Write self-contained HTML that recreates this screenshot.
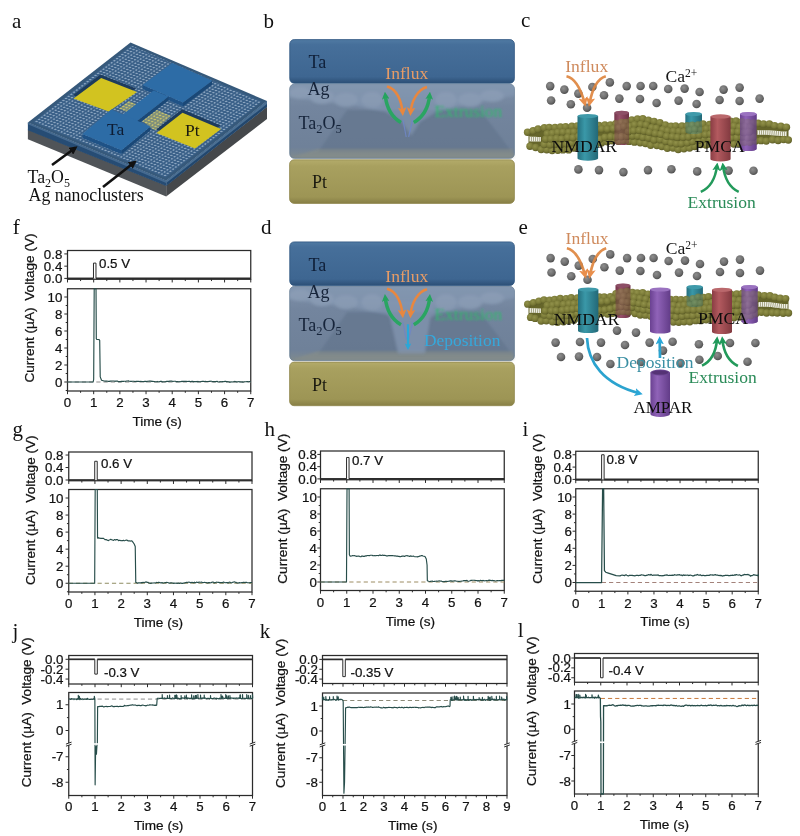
<!DOCTYPE html>
<html><head><meta charset="utf-8"><title>Figure</title>
<style>
html,body{margin:0;padding:0;background:#fff;overflow:hidden;width:800px;height:836px;}
svg{display:block;}
.sans text{font-family:"Liberation Sans",sans-serif;stroke:#111;stroke-width:.22px;}
.serif text{font-family:"Liberation Serif",serif;}
</style></head><body>
<svg width="800" height="836" viewBox="0 0 800 836">
<rect width="800" height="836" fill="#fff"/>
<g class="serif">
<defs>
<pattern id="dots" width="3.4" height="3.4" patternUnits="userSpaceOnUse" patternTransform="matrix(0.922 0.387 0.788 -0.615 27.9 122.6)">
<circle cx="1.7" cy="1.7" r="0.95" fill="#a6bcd2" fill-opacity="0.9"/></pattern>
<pattern id="ydots" width="3.4" height="3.4" patternUnits="userSpaceOnUse" patternTransform="matrix(0.922 0.387 0.788 -0.615 27.9 122.6)">
<circle cx="1.7" cy="1.7" r="0.9" fill="#d8cf6a"/></pattern>
<linearGradient id="gTa" x1="0" y1="0" x2="0" y2="1"><stop offset="0" stop-color="#507aa3"/><stop offset="0.12" stop-color="#466f9a"/><stop offset="0.85" stop-color="#3e6691"/><stop offset="1" stop-color="#2c4f76"/></linearGradient>
<linearGradient id="gOx" x1="0" y1="0" x2="0" y2="1"><stop offset="0" stop-color="#8092aa"/><stop offset="0.3" stop-color="#73859e"/><stop offset="0.85" stop-color="#6f8199"/><stop offset="1" stop-color="#7f8a8e"/></linearGradient>
<linearGradient id="gPt" x1="0" y1="0" x2="0" y2="1"><stop offset="0" stop-color="#b3ab6a"/><stop offset="0.15" stop-color="#a8a05f"/><stop offset="0.85" stop-color="#9d9555"/><stop offset="1" stop-color="#877f45"/></linearGradient>
<radialGradient id="gCa" cx="0.4" cy="0.35" r="0.7"><stop offset="0" stop-color="#8e8e8e"/><stop offset="0.6" stop-color="#6e6e6e"/><stop offset="1" stop-color="#484848"/></radialGradient>
<radialGradient id="gLip" cx="0.4" cy="0.35" r="0.75"><stop offset="0" stop-color="#92924b"/><stop offset="0.55" stop-color="#7a7a37"/><stop offset="1" stop-color="#545422"/></radialGradient>
<linearGradient id="gTeal" x1="0" y1="0" x2="1" y2="0"><stop offset="0" stop-color="#256f7e"/><stop offset="0.35" stop-color="#3a98a8"/><stop offset="1" stop-color="#236877"/></linearGradient>
<linearGradient id="gRed" x1="0" y1="0" x2="1" y2="0"><stop offset="0" stop-color="#8a3d44"/><stop offset="0.35" stop-color="#b35a5f"/><stop offset="1" stop-color="#823a40"/></linearGradient>
<linearGradient id="gDred" x1="0" y1="0" x2="1" y2="0"><stop offset="0" stop-color="#74344a"/><stop offset="0.35" stop-color="#97506a"/><stop offset="1" stop-color="#6d3045"/></linearGradient>
<linearGradient id="gPur" x1="0" y1="0" x2="1" y2="0"><stop offset="0" stop-color="#6a4191"/><stop offset="0.35" stop-color="#9063b8"/><stop offset="1" stop-color="#623c88"/></linearGradient>
<filter id="blur1" x="-10%" y="-30%" width="120%" height="160%"><feGaussianBlur stdDeviation="0.8"/></filter>
<filter id="blur2" x="-10%" y="-10%" width="120%" height="120%"><feGaussianBlur stdDeviation="1.6"/></filter>
<filter id="blur05" x="-10%" y="-10%" width="120%" height="120%"><feGaussianBlur stdDeviation="0.45"/></filter>
<marker id="mO" viewBox="0 0 10 10" refX="6" refY="5" markerWidth="3.5" markerHeight="3.5" orient="auto"><path d="M0 0L10 5L0 10L2.5 5z" fill="#e8873f"/></marker>
<marker id="mG" viewBox="0 0 10 10" refX="5" refY="5" markerWidth="2.2" markerHeight="2.2" orient="auto"><path d="M0 0L10 5L0 10L2.5 5z" fill="#25a35e"/></marker>
<marker id="mG2" viewBox="0 0 10 10" refX="6" refY="5" markerWidth="3.3" markerHeight="3.3" orient="auto"><path d="M0 0L10 5L0 10L2.5 5z" fill="#1f9a5a"/></marker>
<marker id="mB" viewBox="0 0 10 10" refX="6" refY="5" markerWidth="3.1" markerHeight="3.1" orient="auto"><path d="M0 0L10 5L0 10L2.5 5z" fill="#2aa7d8"/></marker>
<marker id="mK" viewBox="0 0 10 10" refX="7" refY="5" markerWidth="3.2" markerHeight="3.2" orient="auto"><path d="M0 0L10 5L0 10z" fill="#111"/></marker>
</defs>
<polygon points="27.9,129.6 166.2,185.6 166.2,196.5 27.9,139.2" fill="#505458" />
<polygon points="166.2,185.6 267,106.8 267,119 166.2,196.5" fill="#45484b" />
<polygon points="27.9,122.6 166.2,180.7 166.2,186.1 27.9,130.2" fill="#264c74" />
<polygon points="166.2,180.7 267,101 267,107 166.2,186.1" fill="#22476e" />
<polygon points="166.2,180.7 267,101 267,104 166.2,182.9" fill="#4b7094" />
<polygon points="27.9,122.6 166.2,180.7 166.2,182.9 27.9,124.2" fill="#456a90" />
<polygon points="130.5,42.5 267,101 166.2,180.7 27.9,122.6" fill="#36597b" />
<polygon points="131.28,45.61 261.64,101.48 165.38,177.59 33.3,122.11" fill="#3b6189" />
<polygon points="131.28,45.61 261.64,101.48 165.38,177.59 33.3,122.11" fill="url(#dots)" />
<polygon points="72.8,95.2 100.4,74.5 136.2,88.6 107.8,108.2" fill="#1d3b5d" />
<polygon points="73.6,98.6 101.2,77.9 137,92 108.6,111.6" fill="#d2c320" />
<polygon points="156.1,129.6 182.1,109.3 220.6,125.5 194.6,145.1" fill="#1d3b5d" />
<polygon points="156.5,133 182.5,112.7 221,128.9 195,148.5" fill="#d2c320" />
<polygon points="142,121 157,110 171,116 155,130.5" fill="#80907a" />
<polygon points="142,121 157,110 171,116 155,130.5" fill="url(#ydots)" />
<polygon points="119,108.5 129,101 137,104.5 127,112" fill="#80907a" />
<polygon points="119,108.5 129,101 137,104.5 127,112" fill="url(#ydots)" />
<polygon points="142.6,85.1 183,102.4 183,106.4 142.6,89.1" fill="#1f5286" />
<polygon points="183,102.4 212.1,80.7 212.1,84.7 183,106.4" fill="#1a4877" />
<polygon points="120.5,116.3 135.4,122.3 135.4,126.3 120.5,120.3" fill="#1f5286" />
<polygon points="135.4,122.3 168.5,96.5 168.5,100.5 135.4,126.3" fill="#1a4877" />
<polygon points="82.4,134.1 121.6,150.2 121.6,154.2 82.4,138.1" fill="#1f5286" />
<polygon points="121.6,150.2 150.4,126.5 150.4,130.5 121.6,154.2" fill="#1a4877" />
<polygon points="142.6,85.1 172.3,63.1 212.1,80.7 183,102.4" fill="#2d6ca6" />
<polygon points="120.5,116.3 153.6,90.5 168.5,96.5 135.4,122.3" fill="#2d6ca6" />
<polygon points="82.4,134.1 111.4,109.4 150.4,126.5 121.6,150.2" fill="#2d6ca6" />
<text x="107" y="134.5" font-size="17.5" fill="#0d1c33">Ta</text>
<text x="185" y="136.2" font-size="17.5" fill="#1a1a10">Pt</text>
<path d="M52 165L75.5 147.8" stroke="#111" stroke-width="2.6" marker-end="url(#mK)" fill="none"/>
<path d="M103 187L134.8 162" stroke="#111" stroke-width="2.6" marker-end="url(#mK)" fill="none"/>
<text x="27.6" y="183" font-size="17.8" fill="#111">Ta<tspan font-size="12" dy="4">2</tspan><tspan dy="-4">O</tspan><tspan font-size="12" dy="4">5</tspan></text>
<text x="28.6" y="201.2" font-size="17.8" fill="#111">Ag nanoclusters</text>
<rect x="289.6" y="159.8" width="224.8" height="43.6" rx="4.5" fill="url(#gPt)" stroke="#8f874c" stroke-width="0.8"/>
<rect x="289.75" y="84.2" width="224.65" height="74.1" rx="4.5" fill="url(#gOx)" stroke="#62788f" stroke-width="0.8"/>
<polygon points="347,110 480,110 512,152 318,152" fill="#65778f" opacity="0.8" filter="url(#blur1)"/>
<polygon points="318,149 512,149 514,157.5 291,157.5" fill="#8a8f86" opacity="0.55" filter="url(#blur1)"/>
<clipPath id="cpox0"><rect x="289.75" y="84.2" width="224.65" height="74.1" rx="4.5"/></clipPath>
<g clip-path="url(#cpox0)"><g filter="url(#blur2)" opacity="0.62">
<polygon points="286,80 518,80 518,95 470,104 436,112 420,122 411,136 402,122 386,112 350,105 286,97" fill="#8599b4"/>
<ellipse cx="300" cy="93" rx="11" ry="6" fill="#93a5bd"/>
<ellipse cx="322" cy="97" rx="12" ry="7" fill="#93a5bd"/>
<ellipse cx="346" cy="100" rx="12" ry="7" fill="#93a5bd"/>
<ellipse cx="372" cy="100" rx="11" ry="8" fill="#93a5bd"/>
<ellipse cx="446" cy="100" rx="11" ry="8" fill="#93a5bd"/>
<ellipse cx="470" cy="100" rx="12" ry="7" fill="#93a5bd"/>
<ellipse cx="492" cy="96" rx="12" ry="6" fill="#93a5bd"/>
</g></g>
<rect x="289.75" y="39.6" width="224.65" height="43.6" rx="4.5" fill="url(#gTa)" stroke="#2f5680" stroke-width="0.8"/>
<path d="M403 120L406.2 137M412.6 120L408.6 137" stroke="#6f86c4" stroke-width="1.2" fill="none" opacity="0.9"/>
<text x="308.5" y="68.2" font-size="18" fill="#0f1f38">Ta</text>
<text x="307.5" y="95.2" font-size="18" fill="#16243a">Ag</text>
<text x="298.5" y="129" font-size="18" fill="#16243a">Ta<tspan font-size="12.5" dy="4">2</tspan><tspan dy="-4">O</tspan><tspan font-size="12.5" dy="4">5</tspan></text>
<text x="312" y="188.3" font-size="18" fill="#1b1a10">Pt</text>
<text x="385.3" y="79.4" font-size="17.6" fill="#e79c66">Influx</text>
<path d="M387 86.5C397 89 401.5 101 402.6 112.5" stroke="#e8873f" stroke-width="2.5" fill="none" marker-end="url(#mO)"/>
<path d="M427 87C417.5 89.5 411.5 101 410.6 112.5" stroke="#e8873f" stroke-width="2.5" fill="none" marker-end="url(#mO)"/>
<path d="M401 122.5C391.5 117 386.5 107 385.3 95.5" stroke="#2aa562" stroke-width="3.5" fill="none" marker-end="url(#mG)"/>
<path d="M413.8 122.5C423 117 428.5 107 429.6 95.5" stroke="#2aa562" stroke-width="3.5" fill="none" marker-end="url(#mG)"/>
<text x="434.5" y="117.3" font-size="17.4" fill="#34b86f" filter="url(#blur1)">Extrusion</text>
<rect x="289.6" y="362.1" width="224.8" height="43.6" rx="4.5" fill="url(#gPt)" stroke="#8f874c" stroke-width="0.8"/>
<rect x="289.75" y="286.5" width="224.65" height="74.1" rx="4.5" fill="url(#gOx)" stroke="#62788f" stroke-width="0.8"/>
<polygon points="347,312.3 480,312.3 512,354.3 318,354.3" fill="#65778f" opacity="0.8" filter="url(#blur1)"/>
<polygon points="318,351.3 512,351.3 514,359.8 291,359.8" fill="#8a8f86" opacity="0.55" filter="url(#blur1)"/>
<clipPath id="cpox202"><rect x="289.75" y="286.5" width="224.65" height="74.1" rx="4.5"/></clipPath>
<g clip-path="url(#cpox202)"><g filter="url(#blur2)" opacity="0.62">
<polygon points="286,282.3 518,282.3 518,297.3 470,306.3 436,314.3 420,324.3 411,338.3 402,324.3 386,314.3 350,307.3 286,299.3" fill="#8599b4"/>
<ellipse cx="300" cy="295.3" rx="11" ry="6" fill="#93a5bd"/>
<ellipse cx="322" cy="299.3" rx="12" ry="7" fill="#93a5bd"/>
<ellipse cx="346" cy="302.3" rx="12" ry="7" fill="#93a5bd"/>
<ellipse cx="372" cy="302.3" rx="11" ry="8" fill="#93a5bd"/>
<ellipse cx="446" cy="302.3" rx="11" ry="8" fill="#93a5bd"/>
<ellipse cx="470" cy="302.3" rx="12" ry="7" fill="#93a5bd"/>
<ellipse cx="492" cy="298.3" rx="12" ry="6" fill="#93a5bd"/>
<polygon points="386,300.3 433,300.3 425,353.3 398,353.3" fill="#8a9db8"/>
</g></g>
<rect x="289.75" y="241.9" width="224.65" height="43.6" rx="4.5" fill="url(#gTa)" stroke="#2f5680" stroke-width="0.8"/>
<path d="M403 322.3L406.2 339.3M412.6 322.3L408.6 339.3" stroke="#6f86c4" stroke-width="1.2" fill="none" opacity="0.9"/>
<text x="308.5" y="270.5" font-size="18" fill="#0f1f38">Ta</text>
<text x="307.5" y="297.5" font-size="18" fill="#16243a">Ag</text>
<text x="298.5" y="331.3" font-size="18" fill="#16243a">Ta<tspan font-size="12.5" dy="4">2</tspan><tspan dy="-4">O</tspan><tspan font-size="12.5" dy="4">5</tspan></text>
<text x="312" y="390.6" font-size="18" fill="#1b1a10">Pt</text>
<text x="385.3" y="281.7" font-size="17.6" fill="#e79c66">Influx</text>
<path d="M387 288.8C397 291.3 401.5 303.3 402.6 314.8" stroke="#e8873f" stroke-width="2.5" fill="none" marker-end="url(#mO)"/>
<path d="M427 289.3C417.5 291.8 411.5 303.3 410.6 314.8" stroke="#e8873f" stroke-width="2.5" fill="none" marker-end="url(#mO)"/>
<path d="M401 324.8C391.5 319.3 386.5 309.3 385.3 297.8" stroke="#2aa562" stroke-width="3.5" fill="none" marker-end="url(#mG)"/>
<path d="M413.8 324.8C423 319.3 428.5 309.3 429.6 297.8" stroke="#2aa562" stroke-width="3.5" fill="none" marker-end="url(#mG)"/>
<text x="434.5" y="319.6" font-size="17.4" fill="#34b86f" filter="url(#blur1)">Extrusion</text>
<path d="M408 324.3L408 347.3" stroke="#2aa7d8" stroke-width="2.2" fill="none" marker-end="url(#mB)"/>
<text x="424" y="345.8" font-size="17.4" fill="#35a8dc" filter="url(#blur05)">Deposition</text>
<circle cx="550.2" cy="86.1" r="4.3" fill="url(#gCa)"/>
<circle cx="551.1" cy="100.5" r="4.3" fill="url(#gCa)"/>
<circle cx="564.35" cy="89.6" r="4.3" fill="url(#gCa)"/>
<circle cx="570.85" cy="104.25" r="4.3" fill="url(#gCa)"/>
<circle cx="578.35" cy="93.6" r="4.3" fill="url(#gCa)"/>
<circle cx="587.1" cy="107.75" r="4.3" fill="url(#gCa)"/>
<circle cx="592.35" cy="87" r="4.3" fill="url(#gCa)"/>
<circle cx="604" cy="95.25" r="4.3" fill="url(#gCa)"/>
<circle cx="609.85" cy="82.4" r="4.3" fill="url(#gCa)"/>
<circle cx="619.35" cy="98.6" r="4.3" fill="url(#gCa)"/>
<circle cx="626.7" cy="86.1" r="4.3" fill="url(#gCa)"/>
<circle cx="640.6" cy="86" r="4.3" fill="url(#gCa)"/>
<circle cx="640" cy="99" r="4.3" fill="url(#gCa)"/>
<circle cx="653.2" cy="86" r="4.3" fill="url(#gCa)"/>
<circle cx="656.6" cy="103" r="4.3" fill="url(#gCa)"/>
<circle cx="668.2" cy="89" r="4.3" fill="url(#gCa)"/>
<circle cx="678.6" cy="100.6" r="4.3" fill="url(#gCa)"/>
<circle cx="684.6" cy="88.6" r="4.3" fill="url(#gCa)"/>
<circle cx="696.6" cy="104" r="4.3" fill="url(#gCa)"/>
<circle cx="699.6" cy="92" r="4.3" fill="url(#gCa)"/>
<circle cx="719.6" cy="100" r="4.3" fill="url(#gCa)"/>
<circle cx="723.6" cy="89.6" r="4.3" fill="url(#gCa)"/>
<circle cx="739.6" cy="87.6" r="4.3" fill="url(#gCa)"/>
<circle cx="739.6" cy="101" r="4.3" fill="url(#gCa)"/>
<circle cx="759.6" cy="98.6" r="4.3" fill="url(#gCa)"/>
<circle cx="578.4" cy="169.4" r="4.3" fill="url(#gCa)"/>
<circle cx="599" cy="170.1" r="4.3" fill="url(#gCa)"/>
<circle cx="623.4" cy="172.1" r="4.3" fill="url(#gCa)"/>
<circle cx="648" cy="170.1" r="4.3" fill="url(#gCa)"/>
<circle cx="671.4" cy="169.3" r="4.3" fill="url(#gCa)"/>
<circle cx="697.2" cy="171.4" r="4.3" fill="url(#gCa)"/>
<circle cx="728.6" cy="170.6" r="4.3" fill="url(#gCa)"/>
<circle cx="753.5" cy="170.7" r="4.3" fill="url(#gCa)"/>
<path d="M614.4 112.8V143A7.3 2.1 0 0 0 629 143V112.8z" fill="url(#gDred)"/><ellipse cx="621.7" cy="112.8" rx="7.3" ry="2.1" fill="#8d4f66"/>
<path d="M685.4 114V140A8.3 2.1 0 0 0 702 140V114z" fill="url(#gTeal)"/><ellipse cx="693.7" cy="114" rx="8.3" ry="2.1" fill="#3f9aaa"/>
<path d="M740 114V149A8.3 2.1 0 0 0 756.6 149V114z" fill="url(#gPur)"/><ellipse cx="748.3" cy="114" rx="8.3" ry="2.1" fill="#9a72c0"/>
<polygon points="528.5,131.82 532.5,130.53 536.5,129.35 540.5,128.2 544.5,127.94 548.5,127.42 552.5,126.83 556.5,126.36 560.5,126.2 564.5,126.11 568.5,125.93 572.5,125.7 576.5,125.47 580.5,125.29 584.5,125.2 588.5,125.15 592.5,124.98 596.5,124.76 600.5,124.52 604.5,124.32 608.5,124.21 612.5,124.01 616.5,123.2 620.5,122.24 624.5,121.71 628.5,121.15 632.5,119.7 636.5,118.25 640.5,117.71 644.5,118.46 648.5,119.8 652.5,120.94 656.5,121.32 660.5,122.5 664.5,124.15 668.5,125.33 672.5,125.41 676.5,125.27 680.5,125.2 684.5,125.08 688.5,124.81 692.5,124.48 696.5,124.16 700.5,123.93 704.5,123.85 708.5,123.63 712.5,123.13 716.5,122.48 720.5,121.77 724.5,121.12 728.5,120.62 732.5,120.4 736.5,120.5 740.5,120.82 744.5,121.28 748.5,121.83 752.5,122.38 756.5,122.88 760.5,123.24 764.5,123.4 768.5,123.66 772.5,124.43 776.5,125.43 780.5,126.35 784.5,126.9 788.5,127.42 788.5,139.96 784.5,140.06 780.5,140.21 776.5,140.46 772.5,140.72 768.5,140.93 764.5,141 760.5,141.16 756.5,141.52 752.5,142.02 748.5,142.57 744.5,143.12 740.5,143.58 736.5,143.9 732.5,144 728.5,144.06 724.5,144.2 720.5,144.38 716.5,144.57 712.5,144.75 708.5,144.89 704.5,144.95 700.5,145.23 696.5,146.07 692.5,147.22 688.5,148.41 684.5,149.35 680.5,149.79 676.5,149.45 672.5,148.75 668.5,148.47 664.5,147.71 660.5,146.64 656.5,145.88 652.5,145.61 648.5,144.8 644.5,143.84 640.5,143.31 636.5,143.02 632.5,142.3 628.5,141.58 624.5,141.3 620.5,141.41 616.5,141.6 612.5,141.76 608.5,141.85 604.5,142.42 600.5,143.42 596.5,144.6 592.5,145.72 588.5,146.53 584.5,146.8 580.5,147.14 576.5,147.87 572.5,148.8 568.5,149.73 564.5,150.46 560.5,150.8 556.5,150.72 552.5,150.48 548.5,150.19 544.5,149.93 540.5,149.8 536.5,148.45 532.5,147.06 528.5,145.32" fill="#65652a"/>
<polyline points="529,138.9 532,139.08 535,139.14 538,139.26 541,139.3" fill="none" stroke="#efefe6" stroke-width="4.6"/>
<polyline points="529,138.9 532,139.08 535,139.14 538,139.26 541,139.3" fill="none" stroke="#8d8d62" stroke-width="4.6" stroke-dasharray="0.7 1.4"/>
<polyline points="757,132.5 760,132.5 763,132.5 766,132.51 769,132.62 772,132.84 775,133.1 778,133.38 781,133.61 784,133.77 787,133.84" fill="none" stroke="#efefe6" stroke-width="4.6"/>
<polyline points="757,132.5 760,132.5 763,132.5 766,132.51 769,132.62 772,132.84 775,133.1 778,133.38 781,133.61 784,133.77 787,133.84" fill="none" stroke="#8d8d62" stroke-width="4.6" stroke-dasharray="0.7 1.4"/>
<circle cx="527.54" cy="132.18" r="3.7" fill="url(#gLip)"/>
<circle cx="533.1" cy="130.74" r="3.7" fill="url(#gLip)"/>
<circle cx="538.07" cy="129.02" r="3.7" fill="url(#gLip)"/>
<circle cx="544.34" cy="127.81" r="3.7" fill="url(#gLip)"/>
<circle cx="549.23" cy="127.39" r="3.7" fill="url(#gLip)"/>
<circle cx="554.97" cy="127.51" r="3.7" fill="url(#gLip)"/>
<circle cx="560.48" cy="127" r="3.7" fill="url(#gLip)"/>
<circle cx="565.65" cy="126.62" r="3.7" fill="url(#gLip)"/>
<circle cx="571.87" cy="126.32" r="3.7" fill="url(#gLip)"/>
<circle cx="577.24" cy="125.87" r="3.7" fill="url(#gLip)"/>
<circle cx="582.06" cy="125.83" r="3.7" fill="url(#gLip)"/>
<circle cx="588.09" cy="125.87" r="3.7" fill="url(#gLip)"/>
<circle cx="593.03" cy="125.09" r="3.7" fill="url(#gLip)"/>
<circle cx="598.97" cy="125.45" r="3.7" fill="url(#gLip)"/>
<circle cx="604.88" cy="124.99" r="3.7" fill="url(#gLip)"/>
<circle cx="610.42" cy="124.86" r="3.7" fill="url(#gLip)"/>
<circle cx="615.8" cy="123.71" r="3.7" fill="url(#gLip)"/>
<circle cx="621.44" cy="122.47" r="3.7" fill="url(#gLip)"/>
<circle cx="626.1" cy="122.44" r="3.7" fill="url(#gLip)"/>
<circle cx="631.72" cy="119.86" r="3.7" fill="url(#gLip)"/>
<circle cx="637.44" cy="118.95" r="3.7" fill="url(#gLip)"/>
<circle cx="642.8" cy="118.62" r="3.7" fill="url(#gLip)"/>
<circle cx="648.39" cy="120.21" r="3.7" fill="url(#gLip)"/>
<circle cx="654.09" cy="121.38" r="3.7" fill="url(#gLip)"/>
<circle cx="659.9" cy="122.62" r="3.7" fill="url(#gLip)"/>
<circle cx="665.43" cy="124.97" r="3.7" fill="url(#gLip)"/>
<circle cx="670.99" cy="126.28" r="3.7" fill="url(#gLip)"/>
<circle cx="675.66" cy="125.89" r="3.7" fill="url(#gLip)"/>
<circle cx="681.96" cy="126.02" r="3.7" fill="url(#gLip)"/>
<circle cx="687.07" cy="125.81" r="3.7" fill="url(#gLip)"/>
<circle cx="692.21" cy="125.14" r="3.7" fill="url(#gLip)"/>
<circle cx="698.07" cy="124.86" r="3.7" fill="url(#gLip)"/>
<circle cx="703.06" cy="123.99" r="3.7" fill="url(#gLip)"/>
<circle cx="709.49" cy="124.4" r="3.7" fill="url(#gLip)"/>
<circle cx="714.8" cy="122.73" r="3.7" fill="url(#gLip)"/>
<circle cx="719.65" cy="122.15" r="3.7" fill="url(#gLip)"/>
<circle cx="725.77" cy="121.13" r="3.7" fill="url(#gLip)"/>
<circle cx="730.54" cy="121.29" r="3.7" fill="url(#gLip)"/>
<circle cx="736.04" cy="121.04" r="3.7" fill="url(#gLip)"/>
<circle cx="741.83" cy="121.64" r="3.7" fill="url(#gLip)"/>
<circle cx="747.98" cy="122.55" r="3.7" fill="url(#gLip)"/>
<circle cx="753.5" cy="122.86" r="3.7" fill="url(#gLip)"/>
<circle cx="758.08" cy="123.25" r="3.7" fill="url(#gLip)"/>
<circle cx="763.53" cy="123.91" r="3.7" fill="url(#gLip)"/>
<circle cx="769.41" cy="123.86" r="3.7" fill="url(#gLip)"/>
<circle cx="774.66" cy="125.58" r="3.7" fill="url(#gLip)"/>
<circle cx="780.87" cy="126.2" r="3.7" fill="url(#gLip)"/>
<circle cx="786.46" cy="127.13" r="3.7" fill="url(#gLip)"/>
<circle cx="529.98" cy="146.21" r="3.7" fill="url(#gLip)"/>
<circle cx="535.62" cy="147.49" r="3.7" fill="url(#gLip)"/>
<circle cx="541.2" cy="149.58" r="3.7" fill="url(#gLip)"/>
<circle cx="546.72" cy="149.73" r="3.7" fill="url(#gLip)"/>
<circle cx="552.11" cy="150.58" r="3.7" fill="url(#gLip)"/>
<circle cx="557.82" cy="150.28" r="3.7" fill="url(#gLip)"/>
<circle cx="562.9" cy="149.92" r="3.7" fill="url(#gLip)"/>
<circle cx="568.62" cy="149.88" r="3.7" fill="url(#gLip)"/>
<circle cx="573.61" cy="148.08" r="3.7" fill="url(#gLip)"/>
<circle cx="579.68" cy="146.78" r="3.7" fill="url(#gLip)"/>
<circle cx="585.22" cy="145.82" r="3.7" fill="url(#gLip)"/>
<circle cx="590.16" cy="145.92" r="3.7" fill="url(#gLip)"/>
<circle cx="596.07" cy="144.47" r="3.7" fill="url(#gLip)"/>
<circle cx="601.45" cy="142.93" r="3.7" fill="url(#gLip)"/>
<circle cx="607.34" cy="141.83" r="3.7" fill="url(#gLip)"/>
<circle cx="612.16" cy="140.79" r="3.7" fill="url(#gLip)"/>
<circle cx="618.56" cy="141.33" r="3.7" fill="url(#gLip)"/>
<circle cx="623.56" cy="140.61" r="3.7" fill="url(#gLip)"/>
<circle cx="628.92" cy="141.38" r="3.7" fill="url(#gLip)"/>
<circle cx="634.41" cy="142.15" r="3.7" fill="url(#gLip)"/>
<circle cx="640.2" cy="142.74" r="3.7" fill="url(#gLip)"/>
<circle cx="645.48" cy="143.45" r="3.7" fill="url(#gLip)"/>
<circle cx="650.63" cy="145.31" r="3.7" fill="url(#gLip)"/>
<circle cx="656.84" cy="145.57" r="3.7" fill="url(#gLip)"/>
<circle cx="661.82" cy="146.44" r="3.7" fill="url(#gLip)"/>
<circle cx="667.34" cy="148.33" r="3.7" fill="url(#gLip)"/>
<circle cx="673.04" cy="148.06" r="3.7" fill="url(#gLip)"/>
<circle cx="678.2" cy="149.57" r="3.7" fill="url(#gLip)"/>
<circle cx="683.93" cy="148.81" r="3.7" fill="url(#gLip)"/>
<circle cx="689.54" cy="148.09" r="3.7" fill="url(#gLip)"/>
<circle cx="694.77" cy="146.48" r="3.7" fill="url(#gLip)"/>
<circle cx="700.75" cy="144.62" r="3.7" fill="url(#gLip)"/>
<circle cx="706.05" cy="145" r="3.7" fill="url(#gLip)"/>
<circle cx="711.22" cy="144.06" r="3.7" fill="url(#gLip)"/>
<circle cx="716.79" cy="144.18" r="3.7" fill="url(#gLip)"/>
<circle cx="722.94" cy="144.25" r="3.7" fill="url(#gLip)"/>
<circle cx="727.88" cy="143.29" r="3.7" fill="url(#gLip)"/>
<circle cx="733.74" cy="143.97" r="3.7" fill="url(#gLip)"/>
<circle cx="738.95" cy="143.68" r="3.7" fill="url(#gLip)"/>
<circle cx="744.39" cy="142.26" r="3.7" fill="url(#gLip)"/>
<circle cx="749.87" cy="142.3" r="3.7" fill="url(#gLip)"/>
<circle cx="755.52" cy="141.04" r="3.7" fill="url(#gLip)"/>
<circle cx="761.01" cy="140.63" r="3.7" fill="url(#gLip)"/>
<circle cx="766.26" cy="141.09" r="3.7" fill="url(#gLip)"/>
<circle cx="772.54" cy="139.75" r="3.7" fill="url(#gLip)"/>
<circle cx="778.09" cy="140.44" r="3.7" fill="url(#gLip)"/>
<circle cx="783.55" cy="139.62" r="3.7" fill="url(#gLip)"/>
<circle cx="788.32" cy="140.06" r="3.7" fill="url(#gLip)"/>
<circle cx="547.24" cy="133.75" r="3.7" fill="url(#gLip)"/>
<circle cx="552.42" cy="133.15" r="3.7" fill="url(#gLip)"/>
<circle cx="557.74" cy="132.34" r="3.7" fill="url(#gLip)"/>
<circle cx="562.97" cy="132.13" r="3.7" fill="url(#gLip)"/>
<circle cx="568.69" cy="132.15" r="3.7" fill="url(#gLip)"/>
<circle cx="573.95" cy="131.85" r="3.7" fill="url(#gLip)"/>
<circle cx="580.09" cy="131.47" r="3.7" fill="url(#gLip)"/>
<circle cx="585.8" cy="131.31" r="3.7" fill="url(#gLip)"/>
<circle cx="590.98" cy="131" r="3.7" fill="url(#gLip)"/>
<circle cx="596.65" cy="129.35" r="3.7" fill="url(#gLip)"/>
<circle cx="601.7" cy="128.9" r="3.7" fill="url(#gLip)"/>
<circle cx="607.42" cy="129.06" r="3.7" fill="url(#gLip)"/>
<circle cx="613.34" cy="128.5" r="3.7" fill="url(#gLip)"/>
<circle cx="618.24" cy="127.76" r="3.7" fill="url(#gLip)"/>
<circle cx="624.26" cy="126.53" r="3.7" fill="url(#gLip)"/>
<circle cx="629.68" cy="126.25" r="3.7" fill="url(#gLip)"/>
<circle cx="634.6" cy="124.79" r="3.7" fill="url(#gLip)"/>
<circle cx="640.72" cy="124.35" r="3.7" fill="url(#gLip)"/>
<circle cx="646.19" cy="125.02" r="3.7" fill="url(#gLip)"/>
<circle cx="651.71" cy="127.58" r="3.7" fill="url(#gLip)"/>
<circle cx="656.41" cy="128.11" r="3.7" fill="url(#gLip)"/>
<circle cx="662.76" cy="129.6" r="3.7" fill="url(#gLip)"/>
<circle cx="667.67" cy="130.68" r="3.7" fill="url(#gLip)"/>
<circle cx="673.43" cy="131.18" r="3.7" fill="url(#gLip)"/>
<circle cx="678.87" cy="131.45" r="3.7" fill="url(#gLip)"/>
<circle cx="683.9" cy="131.68" r="3.7" fill="url(#gLip)"/>
<circle cx="689.53" cy="130.19" r="3.7" fill="url(#gLip)"/>
<circle cx="694.97" cy="129.53" r="3.7" fill="url(#gLip)"/>
<circle cx="701.25" cy="130" r="3.7" fill="url(#gLip)"/>
<circle cx="706.4" cy="128.77" r="3.7" fill="url(#gLip)"/>
<circle cx="711.71" cy="128.59" r="3.7" fill="url(#gLip)"/>
<circle cx="717.55" cy="127.89" r="3.7" fill="url(#gLip)"/>
<circle cx="722.76" cy="127.39" r="3.7" fill="url(#gLip)"/>
<circle cx="728.23" cy="126.32" r="3.7" fill="url(#gLip)"/>
<circle cx="733.96" cy="126.05" r="3.7" fill="url(#gLip)"/>
<circle cx="739.28" cy="126.92" r="3.7" fill="url(#gLip)"/>
<circle cx="744.58" cy="126.46" r="3.7" fill="url(#gLip)"/>
<circle cx="750.5" cy="127.2" r="3.7" fill="url(#gLip)"/>
<circle cx="544.28" cy="144.57" r="3.7" fill="url(#gLip)"/>
<circle cx="550.02" cy="144.68" r="3.7" fill="url(#gLip)"/>
<circle cx="555.27" cy="144.33" r="3.7" fill="url(#gLip)"/>
<circle cx="561.1" cy="144.43" r="3.7" fill="url(#gLip)"/>
<circle cx="566.59" cy="143.82" r="3.7" fill="url(#gLip)"/>
<circle cx="571.65" cy="142.89" r="3.7" fill="url(#gLip)"/>
<circle cx="577.6" cy="141.96" r="3.7" fill="url(#gLip)"/>
<circle cx="582.82" cy="140.75" r="3.7" fill="url(#gLip)"/>
<circle cx="588.78" cy="140.91" r="3.7" fill="url(#gLip)"/>
<circle cx="593.77" cy="140.56" r="3.7" fill="url(#gLip)"/>
<circle cx="599.69" cy="139.22" r="3.7" fill="url(#gLip)"/>
<circle cx="604.86" cy="137.35" r="3.7" fill="url(#gLip)"/>
<circle cx="610.71" cy="136.75" r="3.7" fill="url(#gLip)"/>
<circle cx="616.29" cy="137.05" r="3.7" fill="url(#gLip)"/>
<circle cx="621.57" cy="136.7" r="3.7" fill="url(#gLip)"/>
<circle cx="626.96" cy="136.5" r="3.7" fill="url(#gLip)"/>
<circle cx="632.49" cy="135.97" r="3.7" fill="url(#gLip)"/>
<circle cx="637.54" cy="136.08" r="3.7" fill="url(#gLip)"/>
<circle cx="642.94" cy="137.39" r="3.7" fill="url(#gLip)"/>
<circle cx="648.5" cy="137.97" r="3.7" fill="url(#gLip)"/>
<circle cx="654.08" cy="139.89" r="3.7" fill="url(#gLip)"/>
<circle cx="660.24" cy="139.66" r="3.7" fill="url(#gLip)"/>
<circle cx="665.74" cy="141.42" r="3.7" fill="url(#gLip)"/>
<circle cx="671.24" cy="142.8" r="3.7" fill="url(#gLip)"/>
<circle cx="676.48" cy="143.73" r="3.7" fill="url(#gLip)"/>
<circle cx="681.44" cy="143.74" r="3.7" fill="url(#gLip)"/>
<circle cx="687.41" cy="142.87" r="3.7" fill="url(#gLip)"/>
<circle cx="692.51" cy="141.5" r="3.7" fill="url(#gLip)"/>
<circle cx="698.83" cy="140.32" r="3.7" fill="url(#gLip)"/>
<circle cx="703.72" cy="138.95" r="3.7" fill="url(#gLip)"/>
<circle cx="709.73" cy="139.41" r="3.7" fill="url(#gLip)"/>
<circle cx="714.58" cy="138.67" r="3.7" fill="url(#gLip)"/>
<circle cx="720.52" cy="138.23" r="3.7" fill="url(#gLip)"/>
<circle cx="725.79" cy="138.44" r="3.7" fill="url(#gLip)"/>
<circle cx="731.3" cy="137.75" r="3.7" fill="url(#gLip)"/>
<circle cx="736.82" cy="137.66" r="3.7" fill="url(#gLip)"/>
<circle cx="742.4" cy="137.09" r="3.7" fill="url(#gLip)"/>
<circle cx="747.81" cy="137.79" r="3.7" fill="url(#gLip)"/>
<circle cx="753.06" cy="137.15" r="3.7" fill="url(#gLip)"/>
<circle cx="545.66" cy="139.14" r="3.7" fill="url(#gLip)"/>
<circle cx="550.92" cy="138.92" r="3.7" fill="url(#gLip)"/>
<circle cx="556.54" cy="138.52" r="3.7" fill="url(#gLip)"/>
<circle cx="561.55" cy="138.94" r="3.7" fill="url(#gLip)"/>
<circle cx="567.65" cy="137.49" r="3.7" fill="url(#gLip)"/>
<circle cx="572.92" cy="137.69" r="3.7" fill="url(#gLip)"/>
<circle cx="578.62" cy="136.36" r="3.7" fill="url(#gLip)"/>
<circle cx="583.67" cy="135.64" r="3.7" fill="url(#gLip)"/>
<circle cx="589.49" cy="135.39" r="3.7" fill="url(#gLip)"/>
<circle cx="594.63" cy="134.74" r="3.7" fill="url(#gLip)"/>
<circle cx="628.35" cy="131.63" r="3.7" fill="url(#gLip)"/>
<circle cx="633.61" cy="130.67" r="3.7" fill="url(#gLip)"/>
<circle cx="639.25" cy="130.41" r="3.7" fill="url(#gLip)"/>
<circle cx="644.17" cy="131.22" r="3.7" fill="url(#gLip)"/>
<circle cx="649.42" cy="132.36" r="3.7" fill="url(#gLip)"/>
<circle cx="655.28" cy="133.48" r="3.7" fill="url(#gLip)"/>
<circle cx="660.76" cy="134.31" r="3.7" fill="url(#gLip)"/>
<circle cx="666.67" cy="136.28" r="3.7" fill="url(#gLip)"/>
<circle cx="672.39" cy="136.62" r="3.7" fill="url(#gLip)"/>
<circle cx="677.5" cy="137.39" r="3.7" fill="url(#gLip)"/>
<circle cx="683.23" cy="137.34" r="3.7" fill="url(#gLip)"/>
<circle cx="688.46" cy="137.01" r="3.7" fill="url(#gLip)"/>
<circle cx="694.12" cy="135.56" r="3.7" fill="url(#gLip)"/>
<circle cx="699.3" cy="135.13" r="3.7" fill="url(#gLip)"/>
<circle cx="705.36" cy="134.67" r="3.7" fill="url(#gLip)"/>
<circle cx="710.13" cy="134.09" r="3.7" fill="url(#gLip)"/>
<circle cx="716.12" cy="133.27" r="3.7" fill="url(#gLip)"/>
<circle cx="721.86" cy="133.18" r="3.7" fill="url(#gLip)"/>
<circle cx="726.64" cy="132.88" r="3.7" fill="url(#gLip)"/>
<circle cx="732.16" cy="131.83" r="3.7" fill="url(#gLip)"/>
<circle cx="738.1" cy="131.82" r="3.7" fill="url(#gLip)"/>
<circle cx="743.8" cy="132.63" r="3.7" fill="url(#gLip)"/>
<circle cx="749.27" cy="131.91" r="3.7" fill="url(#gLip)"/>
<g opacity="0.45"><path d="M614.4 112.8V143A7.3 2.1 0 0 0 629 143V112.8z" fill="url(#gDred)"/><ellipse cx="621.7" cy="112.8" rx="7.3" ry="2.1" fill="#8d4f66"/></g>
<g opacity="0.3"><path d="M685.4 114V132A8.3 2.1 0 0 0 702 132V114z" fill="url(#gTeal)"/><ellipse cx="693.7" cy="114" rx="8.3" ry="2.1" fill="#3f9aaa"/></g>
<g opacity="0.75"><path d="M740 114V149A8.3 2.1 0 0 0 756.6 149V114z" fill="url(#gPur)"/><ellipse cx="748.3" cy="114" rx="8.3" ry="2.1" fill="#9a72c0"/></g>
<path d="M577.5 116V158.6A10.3 2.1 0 0 0 598.1 158.6V116z" fill="url(#gTeal)"/><ellipse cx="587.8" cy="116" rx="10.3" ry="2.1" fill="#3f9aaa"/>
<path d="M710.4 116.4V159.3A10.1 2.1 0 0 0 730.6 159.3V116.4z" fill="url(#gRed)"/><ellipse cx="720.5" cy="116.4" rx="10.1" ry="2.1" fill="#ba686c"/>
<path d="M566.5 76.3C576.1 78.5 581.1 90 584.6 103" stroke="#df8741" stroke-width="2.7" fill="none" marker-end="url(#mO)" opacity="0.93"/>
<path d="M605.8 76.3C596.6 79 592.1 90 589.6 103" stroke="#df8741" stroke-width="2.7" fill="none" marker-end="url(#mO)" opacity="0.93"/>
<text x="565.2" y="71.8" font-size="17.6" fill="#cf8a5c">Influx</text>
<text x="665.4" y="82.2" font-size="17.6" fill="#161616">Ca<tspan font-size="11.5" dy="-5.6">2+</tspan></text>
<path d="M700.8 191.8C710.5 187.5 715.5 178 717 165.8" stroke="#239a5b" stroke-width="2.5" fill="none" marker-end="url(#mG2)"/>
<path d="M738.7 191.8C729.5 187.5 724.5 178 723 165.8" stroke="#239a5b" stroke-width="2.5" fill="none" marker-end="url(#mG2)"/>
<text x="551.6" y="152.3" font-size="17.6" fill="#0c0c0c">NMDAR</text>
<text x="694.8" y="152.4" font-size="17.6" fill="#0c0c0c">PMCA</text>
<text x="687.6" y="207.5" font-size="17.55" fill="#2a8b58">Extrusion</text>
<circle cx="550.6" cy="258.1" r="4.3" fill="url(#gCa)"/>
<circle cx="551.5" cy="272.5" r="4.3" fill="url(#gCa)"/>
<circle cx="564.75" cy="261.6" r="4.3" fill="url(#gCa)"/>
<circle cx="571.25" cy="276.25" r="4.3" fill="url(#gCa)"/>
<circle cx="578.75" cy="265.6" r="4.3" fill="url(#gCa)"/>
<circle cx="587.5" cy="279.75" r="4.3" fill="url(#gCa)"/>
<circle cx="592.75" cy="259" r="4.3" fill="url(#gCa)"/>
<circle cx="604.4" cy="267.25" r="4.3" fill="url(#gCa)"/>
<circle cx="610.25" cy="254.4" r="4.3" fill="url(#gCa)"/>
<circle cx="619.75" cy="270.6" r="4.3" fill="url(#gCa)"/>
<circle cx="627.1" cy="258.1" r="4.3" fill="url(#gCa)"/>
<circle cx="641" cy="258" r="4.3" fill="url(#gCa)"/>
<circle cx="640.4" cy="271" r="4.3" fill="url(#gCa)"/>
<circle cx="653.6" cy="258" r="4.3" fill="url(#gCa)"/>
<circle cx="657" cy="275" r="4.3" fill="url(#gCa)"/>
<circle cx="668.6" cy="261" r="4.3" fill="url(#gCa)"/>
<circle cx="679" cy="272.6" r="4.3" fill="url(#gCa)"/>
<circle cx="685" cy="260.6" r="4.3" fill="url(#gCa)"/>
<circle cx="697" cy="276" r="4.3" fill="url(#gCa)"/>
<circle cx="700" cy="264" r="4.3" fill="url(#gCa)"/>
<circle cx="720" cy="272" r="4.3" fill="url(#gCa)"/>
<circle cx="724" cy="261.6" r="4.3" fill="url(#gCa)"/>
<circle cx="740" cy="259.6" r="4.3" fill="url(#gCa)"/>
<circle cx="740" cy="273" r="4.3" fill="url(#gCa)"/>
<circle cx="760" cy="270.6" r="4.3" fill="url(#gCa)"/>
<circle cx="555.6" cy="342.6" r="4.3" fill="url(#gCa)"/>
<circle cx="561" cy="357" r="4.3" fill="url(#gCa)"/>
<circle cx="580" cy="342" r="4.3" fill="url(#gCa)"/>
<circle cx="579" cy="356.6" r="4.3" fill="url(#gCa)"/>
<circle cx="601" cy="342.6" r="4.3" fill="url(#gCa)"/>
<circle cx="597" cy="357" r="4.3" fill="url(#gCa)"/>
<circle cx="610.4" cy="364" r="4.3" fill="url(#gCa)"/>
<circle cx="617" cy="330.6" r="4.3" fill="url(#gCa)"/>
<circle cx="625" cy="345" r="4.3" fill="url(#gCa)"/>
<circle cx="636" cy="332.6" r="4.3" fill="url(#gCa)"/>
<circle cx="649.6" cy="342.6" r="4.3" fill="url(#gCa)"/>
<circle cx="663" cy="350.6" r="4.3" fill="url(#gCa)"/>
<circle cx="672.6" cy="341.8" r="4.3" fill="url(#gCa)"/>
<circle cx="641" cy="362" r="4.3" fill="url(#gCa)"/>
<circle cx="680.5" cy="363" r="4.3" fill="url(#gCa)"/>
<circle cx="698.9" cy="344.25" r="4.3" fill="url(#gCa)"/>
<circle cx="699.4" cy="359.7" r="4.3" fill="url(#gCa)"/>
<circle cx="717.75" cy="356" r="4.3" fill="url(#gCa)"/>
<circle cx="730" cy="343" r="4.3" fill="url(#gCa)"/>
<circle cx="747.5" cy="361.75" r="4.3" fill="url(#gCa)"/>
<circle cx="755.4" cy="343" r="4.3" fill="url(#gCa)"/>
<path d="M615.6 285.5V316A7.4 2.1 0 0 0 630.4 316V285.5z" fill="url(#gDred)"/><ellipse cx="623" cy="285.5" rx="7.4" ry="2.1" fill="#8d4f66"/>
<path d="M686.6 287V315A8.15 2.1 0 0 0 702.9 315V287z" fill="url(#gTeal)"/><ellipse cx="694.75" cy="287" rx="8.15" ry="2.1" fill="#3f9aaa"/>
<path d="M741.4 287V321.5A8.15 2.1 0 0 0 757.7 321.5V287z" fill="url(#gPur)"/><ellipse cx="749.55" cy="287" rx="8.15" ry="2.1" fill="#9a72c0"/>
<polygon points="528.5,303.29 532.5,301.93 536.5,301.05 540.5,300.2 544.5,299.94 548.5,299.42 552.5,298.83 556.5,298.36 560.5,298.2 564.5,298.16 568.5,298.07 572.5,297.95 576.5,297.83 580.5,297.74 584.5,297.7 588.5,297.63 592.5,297.44 596.5,297.21 600.5,297.02 604.5,296.94 608.5,296.21 612.5,294.72 616.5,293.02 620.5,291.67 624.5,291.2 628.5,291.39 632.5,291.75 636.5,292.08 640.5,292.21 644.5,292.85 648.5,294.14 652.5,295.62 656.5,296.79 660.5,297.21 664.5,297.55 668.5,298.2 672.5,298.85 676.5,299.19 680.5,299.11 684.5,298.82 688.5,298.42 692.5,297.98 696.5,297.58 700.5,297.29 704.5,297.2 708.5,297.03 712.5,296.64 716.5,296.11 720.5,295.49 724.5,294.85 728.5,294.26 732.5,293.79 736.5,293.5 740.5,293.47 744.5,293.65 748.5,293.98 752.5,294.38 756.5,294.76 760.5,295.06 764.5,295.2 768.5,295.46 772.5,296.22 776.5,297.2 780.5,298.11 784.5,298.65 788.5,299.38 788.5,313.22 784.5,313.29 780.5,313.22 776.5,313.09 772.5,312.95 768.5,312.84 764.5,312.81 760.5,313.18 756.5,313.99 752.5,315.04 748.5,316.11 744.5,317 740.5,317.5 736.5,317.6 732.5,317.84 728.5,318.25 724.5,318.76 720.5,319.31 716.5,319.85 712.5,320.32 708.5,320.65 704.5,320.8 700.5,320.89 696.5,321.18 692.5,321.58 688.5,322.02 684.5,322.42 680.5,322.71 676.5,322.79 672.5,322.11 668.5,320.8 664.5,319.49 660.5,318.81 656.5,318.48 652.5,317.53 648.5,316.35 644.5,315.32 640.5,314.81 636.5,314.43 632.5,313.44 628.5,312.38 624.5,311.81 620.5,311.98 616.5,312.51 612.5,313.18 608.5,313.76 604.5,314.05 600.5,314.43 596.5,315.51 592.5,316.84 588.5,317.92 584.5,318.31 580.5,318.68 576.5,319.51 572.5,320.55 568.5,321.59 564.5,322.42 560.5,322.79 556.5,322.64 552.5,322.17 548.5,321.58 544.5,321.06 540.5,320.8 536.5,319.65 532.5,318.46 528.5,316.8" fill="#65652a"/>
<polyline points="529,310.37 532,310.49 535,310.56 538,310.74 541,310.8" fill="none" stroke="#efefe6" stroke-width="4.6"/>
<polyline points="529,310.37 532,310.49 535,310.56 538,310.74 541,310.8" fill="none" stroke="#8d8d62" stroke-width="4.6" stroke-dasharray="0.7 1.4"/>
<polyline points="758,304.57 761,304.4 764,304.31 767,304.35 770,304.59 773,304.95 776,305.37 779,305.78 782,306.11 785,306.29 788,306.51" fill="none" stroke="#efefe6" stroke-width="4.6"/>
<polyline points="758,304.57 761,304.4 764,304.31 767,304.35 770,304.59 773,304.95 776,305.37 779,305.78 782,306.11 785,306.29 788,306.51" fill="none" stroke="#8d8d62" stroke-width="4.6" stroke-dasharray="0.7 1.4"/>
<circle cx="527.74" cy="304.13" r="3.7" fill="url(#gLip)"/>
<circle cx="533.44" cy="302.65" r="3.7" fill="url(#gLip)"/>
<circle cx="538.92" cy="301.09" r="3.7" fill="url(#gLip)"/>
<circle cx="543.97" cy="299.83" r="3.7" fill="url(#gLip)"/>
<circle cx="549.65" cy="300.21" r="3.7" fill="url(#gLip)"/>
<circle cx="554.61" cy="299.39" r="3.7" fill="url(#gLip)"/>
<circle cx="560.25" cy="298.56" r="3.7" fill="url(#gLip)"/>
<circle cx="566.07" cy="298.58" r="3.7" fill="url(#gLip)"/>
<circle cx="571.22" cy="297.8" r="3.7" fill="url(#gLip)"/>
<circle cx="577.42" cy="297.96" r="3.7" fill="url(#gLip)"/>
<circle cx="582.16" cy="298.43" r="3.7" fill="url(#gLip)"/>
<circle cx="587.64" cy="298.41" r="3.7" fill="url(#gLip)"/>
<circle cx="593.13" cy="297.92" r="3.7" fill="url(#gLip)"/>
<circle cx="599.37" cy="296.88" r="3.7" fill="url(#gLip)"/>
<circle cx="604.22" cy="296.99" r="3.7" fill="url(#gLip)"/>
<circle cx="610.37" cy="296.69" r="3.7" fill="url(#gLip)"/>
<circle cx="615.96" cy="293.58" r="3.7" fill="url(#gLip)"/>
<circle cx="621.18" cy="292" r="3.7" fill="url(#gLip)"/>
<circle cx="626.94" cy="291.31" r="3.7" fill="url(#gLip)"/>
<circle cx="632.47" cy="292.33" r="3.7" fill="url(#gLip)"/>
<circle cx="637.3" cy="293.01" r="3.7" fill="url(#gLip)"/>
<circle cx="642.67" cy="292.74" r="3.7" fill="url(#gLip)"/>
<circle cx="648.07" cy="294.12" r="3.7" fill="url(#gLip)"/>
<circle cx="654.1" cy="296.28" r="3.7" fill="url(#gLip)"/>
<circle cx="659.68" cy="296.99" r="3.7" fill="url(#gLip)"/>
<circle cx="664.81" cy="297.82" r="3.7" fill="url(#gLip)"/>
<circle cx="670.48" cy="299.33" r="3.7" fill="url(#gLip)"/>
<circle cx="675.98" cy="299.36" r="3.7" fill="url(#gLip)"/>
<circle cx="681.06" cy="299.7" r="3.7" fill="url(#gLip)"/>
<circle cx="686.52" cy="299.55" r="3.7" fill="url(#gLip)"/>
<circle cx="692.84" cy="298.68" r="3.7" fill="url(#gLip)"/>
<circle cx="698.29" cy="297.27" r="3.7" fill="url(#gLip)"/>
<circle cx="703.58" cy="297.44" r="3.7" fill="url(#gLip)"/>
<circle cx="708.55" cy="296.8" r="3.7" fill="url(#gLip)"/>
<circle cx="714.96" cy="296.41" r="3.7" fill="url(#gLip)"/>
<circle cx="720.26" cy="295.6" r="3.7" fill="url(#gLip)"/>
<circle cx="725.94" cy="295.61" r="3.7" fill="url(#gLip)"/>
<circle cx="730.85" cy="294.16" r="3.7" fill="url(#gLip)"/>
<circle cx="736.78" cy="293.93" r="3.7" fill="url(#gLip)"/>
<circle cx="742.25" cy="293.44" r="3.7" fill="url(#gLip)"/>
<circle cx="747.86" cy="294.65" r="3.7" fill="url(#gLip)"/>
<circle cx="753.45" cy="294.27" r="3.7" fill="url(#gLip)"/>
<circle cx="758.34" cy="294.84" r="3.7" fill="url(#gLip)"/>
<circle cx="764.42" cy="295.73" r="3.7" fill="url(#gLip)"/>
<circle cx="769.92" cy="295.82" r="3.7" fill="url(#gLip)"/>
<circle cx="774.81" cy="297.28" r="3.7" fill="url(#gLip)"/>
<circle cx="780.18" cy="298.29" r="3.7" fill="url(#gLip)"/>
<circle cx="785.65" cy="298.59" r="3.7" fill="url(#gLip)"/>
<circle cx="530.6" cy="317.4" r="3.7" fill="url(#gLip)"/>
<circle cx="535.15" cy="318.41" r="3.7" fill="url(#gLip)"/>
<circle cx="541.13" cy="321" r="3.7" fill="url(#gLip)"/>
<circle cx="546.34" cy="320.8" r="3.7" fill="url(#gLip)"/>
<circle cx="552.43" cy="321.82" r="3.7" fill="url(#gLip)"/>
<circle cx="557.52" cy="322.27" r="3.7" fill="url(#gLip)"/>
<circle cx="563.52" cy="321.68" r="3.7" fill="url(#gLip)"/>
<circle cx="568.59" cy="320.61" r="3.7" fill="url(#gLip)"/>
<circle cx="573.73" cy="320.13" r="3.7" fill="url(#gLip)"/>
<circle cx="580.05" cy="318.72" r="3.7" fill="url(#gLip)"/>
<circle cx="585.39" cy="318.06" r="3.7" fill="url(#gLip)"/>
<circle cx="590.53" cy="316.54" r="3.7" fill="url(#gLip)"/>
<circle cx="596.44" cy="314.82" r="3.7" fill="url(#gLip)"/>
<circle cx="601.55" cy="313.59" r="3.7" fill="url(#gLip)"/>
<circle cx="607.45" cy="314.1" r="3.7" fill="url(#gLip)"/>
<circle cx="612.55" cy="313.33" r="3.7" fill="url(#gLip)"/>
<circle cx="618.33" cy="311.86" r="3.7" fill="url(#gLip)"/>
<circle cx="623.39" cy="311.38" r="3.7" fill="url(#gLip)"/>
<circle cx="628.75" cy="312" r="3.7" fill="url(#gLip)"/>
<circle cx="635.09" cy="313.46" r="3.7" fill="url(#gLip)"/>
<circle cx="640.23" cy="314.95" r="3.7" fill="url(#gLip)"/>
<circle cx="645.44" cy="315.16" r="3.7" fill="url(#gLip)"/>
<circle cx="650.87" cy="316.24" r="3.7" fill="url(#gLip)"/>
<circle cx="656.97" cy="318.43" r="3.7" fill="url(#gLip)"/>
<circle cx="662.39" cy="318.4" r="3.7" fill="url(#gLip)"/>
<circle cx="667.79" cy="320.41" r="3.7" fill="url(#gLip)"/>
<circle cx="673.36" cy="322.06" r="3.7" fill="url(#gLip)"/>
<circle cx="678.8" cy="322.22" r="3.7" fill="url(#gLip)"/>
<circle cx="684.09" cy="321.79" r="3.7" fill="url(#gLip)"/>
<circle cx="689.79" cy="321.82" r="3.7" fill="url(#gLip)"/>
<circle cx="695.55" cy="320.66" r="3.7" fill="url(#gLip)"/>
<circle cx="700.68" cy="320.67" r="3.7" fill="url(#gLip)"/>
<circle cx="706.15" cy="319.78" r="3.7" fill="url(#gLip)"/>
<circle cx="711.77" cy="319.71" r="3.7" fill="url(#gLip)"/>
<circle cx="717.42" cy="319.33" r="3.7" fill="url(#gLip)"/>
<circle cx="722.9" cy="318.8" r="3.7" fill="url(#gLip)"/>
<circle cx="728.24" cy="317.72" r="3.7" fill="url(#gLip)"/>
<circle cx="733.93" cy="317.64" r="3.7" fill="url(#gLip)"/>
<circle cx="739.44" cy="316.97" r="3.7" fill="url(#gLip)"/>
<circle cx="744.79" cy="317.03" r="3.7" fill="url(#gLip)"/>
<circle cx="750.56" cy="315.86" r="3.7" fill="url(#gLip)"/>
<circle cx="755.63" cy="313.84" r="3.7" fill="url(#gLip)"/>
<circle cx="761.44" cy="312.29" r="3.7" fill="url(#gLip)"/>
<circle cx="766.58" cy="312.93" r="3.7" fill="url(#gLip)"/>
<circle cx="772.32" cy="312.76" r="3.7" fill="url(#gLip)"/>
<circle cx="777.27" cy="313" r="3.7" fill="url(#gLip)"/>
<circle cx="783.18" cy="313.21" r="3.7" fill="url(#gLip)"/>
<circle cx="788.52" cy="313.02" r="3.7" fill="url(#gLip)"/>
<circle cx="547.17" cy="305.42" r="3.7" fill="url(#gLip)"/>
<circle cx="552.62" cy="305.04" r="3.7" fill="url(#gLip)"/>
<circle cx="557.56" cy="304.01" r="3.7" fill="url(#gLip)"/>
<circle cx="563.55" cy="304.4" r="3.7" fill="url(#gLip)"/>
<circle cx="569.09" cy="303.78" r="3.7" fill="url(#gLip)"/>
<circle cx="573.94" cy="303.79" r="3.7" fill="url(#gLip)"/>
<circle cx="579.63" cy="303.18" r="3.7" fill="url(#gLip)"/>
<circle cx="585.03" cy="302.51" r="3.7" fill="url(#gLip)"/>
<circle cx="590.58" cy="302.46" r="3.7" fill="url(#gLip)"/>
<circle cx="595.94" cy="301.63" r="3.7" fill="url(#gLip)"/>
<circle cx="601.78" cy="301.44" r="3.7" fill="url(#gLip)"/>
<circle cx="607.49" cy="301.18" r="3.7" fill="url(#gLip)"/>
<circle cx="613.3" cy="299.07" r="3.7" fill="url(#gLip)"/>
<circle cx="618.31" cy="296.88" r="3.7" fill="url(#gLip)"/>
<circle cx="623.81" cy="296.28" r="3.7" fill="url(#gLip)"/>
<circle cx="629.73" cy="296.49" r="3.7" fill="url(#gLip)"/>
<circle cx="634.44" cy="297.54" r="3.7" fill="url(#gLip)"/>
<circle cx="639.99" cy="298.19" r="3.7" fill="url(#gLip)"/>
<circle cx="645.74" cy="299.1" r="3.7" fill="url(#gLip)"/>
<circle cx="651.86" cy="301.02" r="3.7" fill="url(#gLip)"/>
<circle cx="656.82" cy="302.88" r="3.7" fill="url(#gLip)"/>
<circle cx="662.54" cy="303.31" r="3.7" fill="url(#gLip)"/>
<circle cx="667.54" cy="303.76" r="3.7" fill="url(#gLip)"/>
<circle cx="673.46" cy="305.13" r="3.7" fill="url(#gLip)"/>
<circle cx="679.37" cy="305.82" r="3.7" fill="url(#gLip)"/>
<circle cx="684.25" cy="305.06" r="3.7" fill="url(#gLip)"/>
<circle cx="689.4" cy="304.84" r="3.7" fill="url(#gLip)"/>
<circle cx="695.47" cy="303.31" r="3.7" fill="url(#gLip)"/>
<circle cx="700.54" cy="303.51" r="3.7" fill="url(#gLip)"/>
<circle cx="706.79" cy="303.41" r="3.7" fill="url(#gLip)"/>
<circle cx="711.83" cy="302.68" r="3.7" fill="url(#gLip)"/>
<circle cx="717.19" cy="301.78" r="3.7" fill="url(#gLip)"/>
<circle cx="722.78" cy="301.84" r="3.7" fill="url(#gLip)"/>
<circle cx="728.81" cy="301.02" r="3.7" fill="url(#gLip)"/>
<circle cx="733.66" cy="300" r="3.7" fill="url(#gLip)"/>
<circle cx="739.4" cy="300.25" r="3.7" fill="url(#gLip)"/>
<circle cx="744.72" cy="299.59" r="3.7" fill="url(#gLip)"/>
<circle cx="750.39" cy="300.31" r="3.7" fill="url(#gLip)"/>
<circle cx="755.88" cy="299.51" r="3.7" fill="url(#gLip)"/>
<circle cx="544.52" cy="315.12" r="3.7" fill="url(#gLip)"/>
<circle cx="549.69" cy="315.87" r="3.7" fill="url(#gLip)"/>
<circle cx="555.73" cy="316.65" r="3.7" fill="url(#gLip)"/>
<circle cx="560.93" cy="315.85" r="3.7" fill="url(#gLip)"/>
<circle cx="566.84" cy="315.61" r="3.7" fill="url(#gLip)"/>
<circle cx="571.65" cy="315.16" r="3.7" fill="url(#gLip)"/>
<circle cx="577.05" cy="313.44" r="3.7" fill="url(#gLip)"/>
<circle cx="582.69" cy="313.61" r="3.7" fill="url(#gLip)"/>
<circle cx="588.37" cy="312.79" r="3.7" fill="url(#gLip)"/>
<circle cx="594" cy="311.6" r="3.7" fill="url(#gLip)"/>
<circle cx="599.02" cy="310.36" r="3.7" fill="url(#gLip)"/>
<circle cx="604.7" cy="309.87" r="3.7" fill="url(#gLip)"/>
<circle cx="610.24" cy="308.86" r="3.7" fill="url(#gLip)"/>
<circle cx="615.93" cy="307.33" r="3.7" fill="url(#gLip)"/>
<circle cx="621.26" cy="306.55" r="3.7" fill="url(#gLip)"/>
<circle cx="626.99" cy="306.96" r="3.7" fill="url(#gLip)"/>
<circle cx="632.15" cy="307.24" r="3.7" fill="url(#gLip)"/>
<circle cx="638.32" cy="308.78" r="3.7" fill="url(#gLip)"/>
<circle cx="643.45" cy="309.74" r="3.7" fill="url(#gLip)"/>
<circle cx="649.18" cy="310.14" r="3.7" fill="url(#gLip)"/>
<circle cx="654.48" cy="312.3" r="3.7" fill="url(#gLip)"/>
<circle cx="660.03" cy="313.45" r="3.7" fill="url(#gLip)"/>
<circle cx="665.81" cy="314.01" r="3.7" fill="url(#gLip)"/>
<circle cx="670.79" cy="315.53" r="3.7" fill="url(#gLip)"/>
<circle cx="676.1" cy="317.11" r="3.7" fill="url(#gLip)"/>
<circle cx="682.23" cy="316.28" r="3.7" fill="url(#gLip)"/>
<circle cx="687.74" cy="315.52" r="3.7" fill="url(#gLip)"/>
<circle cx="692.83" cy="315.67" r="3.7" fill="url(#gLip)"/>
<circle cx="698.68" cy="314.67" r="3.7" fill="url(#gLip)"/>
<circle cx="703.54" cy="315.19" r="3.7" fill="url(#gLip)"/>
<circle cx="709.45" cy="314.46" r="3.7" fill="url(#gLip)"/>
<circle cx="714.73" cy="313.92" r="3.7" fill="url(#gLip)"/>
<circle cx="720.49" cy="312.76" r="3.7" fill="url(#gLip)"/>
<circle cx="725.47" cy="312.76" r="3.7" fill="url(#gLip)"/>
<circle cx="731.72" cy="311.41" r="3.7" fill="url(#gLip)"/>
<circle cx="737.06" cy="311.71" r="3.7" fill="url(#gLip)"/>
<circle cx="742.62" cy="310.61" r="3.7" fill="url(#gLip)"/>
<circle cx="748.4" cy="311.05" r="3.7" fill="url(#gLip)"/>
<circle cx="752.95" cy="309.75" r="3.7" fill="url(#gLip)"/>
<circle cx="545.12" cy="310.91" r="3.7" fill="url(#gLip)"/>
<circle cx="551.35" cy="310.67" r="3.7" fill="url(#gLip)"/>
<circle cx="556.03" cy="310.75" r="3.7" fill="url(#gLip)"/>
<circle cx="562.32" cy="310.21" r="3.7" fill="url(#gLip)"/>
<circle cx="567.51" cy="309.55" r="3.7" fill="url(#gLip)"/>
<circle cx="572.56" cy="309.09" r="3.7" fill="url(#gLip)"/>
<circle cx="577.94" cy="308.58" r="3.7" fill="url(#gLip)"/>
<circle cx="583.78" cy="307.54" r="3.7" fill="url(#gLip)"/>
<circle cx="588.96" cy="307.15" r="3.7" fill="url(#gLip)"/>
<circle cx="622.64" cy="301.66" r="3.7" fill="url(#gLip)"/>
<circle cx="627.53" cy="302.25" r="3.7" fill="url(#gLip)"/>
<circle cx="633.21" cy="302.68" r="3.7" fill="url(#gLip)"/>
<circle cx="638.89" cy="303.59" r="3.7" fill="url(#gLip)"/>
<circle cx="644.27" cy="304.58" r="3.7" fill="url(#gLip)"/>
<circle cx="650.1" cy="305.18" r="3.7" fill="url(#gLip)"/>
<circle cx="655.53" cy="306.98" r="3.7" fill="url(#gLip)"/>
<circle cx="661.31" cy="308.03" r="3.7" fill="url(#gLip)"/>
<circle cx="666.52" cy="309.02" r="3.7" fill="url(#gLip)"/>
<circle cx="671.95" cy="310.07" r="3.7" fill="url(#gLip)"/>
<circle cx="677.65" cy="310.7" r="3.7" fill="url(#gLip)"/>
<circle cx="682.53" cy="310.78" r="3.7" fill="url(#gLip)"/>
<circle cx="688.27" cy="309.91" r="3.7" fill="url(#gLip)"/>
<circle cx="693.58" cy="309.91" r="3.7" fill="url(#gLip)"/>
<circle cx="699.56" cy="309.41" r="3.7" fill="url(#gLip)"/>
<circle cx="705.07" cy="308.5" r="3.7" fill="url(#gLip)"/>
<circle cx="710.02" cy="308.2" r="3.7" fill="url(#gLip)"/>
<circle cx="715.64" cy="308.17" r="3.7" fill="url(#gLip)"/>
<circle cx="721.38" cy="307.72" r="3.7" fill="url(#gLip)"/>
<circle cx="727.2" cy="306.25" r="3.7" fill="url(#gLip)"/>
<circle cx="732.63" cy="305.26" r="3.7" fill="url(#gLip)"/>
<circle cx="737.55" cy="304.97" r="3.7" fill="url(#gLip)"/>
<circle cx="743.58" cy="305.93" r="3.7" fill="url(#gLip)"/>
<circle cx="748.52" cy="304.68" r="3.7" fill="url(#gLip)"/>
<g opacity="0.45"><path d="M615.6 285.5V316A7.4 2.1 0 0 0 630.4 316V285.5z" fill="url(#gDred)"/><ellipse cx="623" cy="285.5" rx="7.4" ry="2.1" fill="#8d4f66"/></g>
<g opacity="0.3"><path d="M686.6 287V305A8.15 2.1 0 0 0 702.9 305V287z" fill="url(#gTeal)"/><ellipse cx="694.75" cy="287" rx="8.15" ry="2.1" fill="#3f9aaa"/></g>
<g opacity="0.7"><path d="M741.4 287V321.5A8.15 2.1 0 0 0 757.7 321.5V287z" fill="url(#gPur)"/><ellipse cx="749.55" cy="287" rx="8.15" ry="2.1" fill="#9a72c0"/></g>
<path d="M578 289.5V331A10.2 2.1 0 0 0 598.4 331V289.5z" fill="url(#gTeal)"/><ellipse cx="588.2" cy="289.5" rx="10.2" ry="2.1" fill="#3f9aaa"/>
<path d="M650 289.5V331.5A10.25 2.1 0 0 0 670.5 331.5V289.5z" fill="url(#gPur)"/><ellipse cx="660.25" cy="289.5" rx="10.25" ry="2.1" fill="#9a72c0"/>
<path d="M712 289.8V332A10 2.1 0 0 0 732 332V289.8z" fill="url(#gRed)"/><ellipse cx="722" cy="289.8" rx="10" ry="2.1" fill="#ba686c"/>
<path d="M650.4 372.5V414A9.8 3 0 0 0 670 414V372.5z" fill="url(#gPur)"/><ellipse cx="660.2" cy="372.5" rx="9.8" ry="3" fill="#6a4591"/>
<ellipse cx="660.2" cy="372.5" rx="8.2" ry="2.1" fill="#553275"/>
<path d="M566.9 248.3C576.5 250.5 581.5 262 585 275" stroke="#df8741" stroke-width="2.7" fill="none" marker-end="url(#mO)" opacity="0.93"/>
<path d="M606.2 248.3C597 251 592.5 262 590 275" stroke="#df8741" stroke-width="2.7" fill="none" marker-end="url(#mO)" opacity="0.93"/>
<text x="565.6" y="243.8" font-size="17.6" fill="#cf8a5c">Influx</text>
<text x="665.8" y="254.2" font-size="17.6" fill="#161616">Ca<tspan font-size="11.5" dy="-5.6">2+</tspan></text>
<path d="M702 365.6C712 361 716 351 717 339.6" stroke="#239a5b" stroke-width="2.6" fill="none" marker-end="url(#mG2)"/>
<path d="M737.9 366C728 361 723.5 351 722.4 339.6" stroke="#239a5b" stroke-width="2.6" fill="none" marker-end="url(#mG2)"/>
<path d="M587 338C588 362 603 384 639.5 393.3" stroke="#2ba3cf" stroke-width="2.7" fill="none" marker-end="url(#mB)"/>
<path d="M660 358L659.7 339.5" stroke="#2ba3cf" stroke-width="2.7" fill="none" marker-end="url(#mB)"/>
<text x="553.8" y="324.5" font-size="17.6" fill="#0c0c0c">NMDAR</text>
<text x="698" y="324.4" font-size="17.6" fill="#0c0c0c">PMCA</text>
<text x="616.6" y="368" font-size="17.5" fill="#3a8fa3">Deposition</text>
<text x="688.6" y="382.8" font-size="17.5" fill="#2a8b58">Extrusion</text>
<text x="633.4" y="413" font-size="17" fill="#0c0c0c">AMPAR</text>
</g>
<g class="sans">
<rect x="67.5" y="250.5" width="183.25" height="28.75" fill="#fff" stroke="#2b2b2b" stroke-width="1.25"/>
<rect x="67.5" y="288.75" width="183.25" height="102.25" fill="#fff" stroke="#2b2b2b" stroke-width="1.25"/>
<path d="M67.5 279.25v3.2M80.59 279.25v1.8M93.68 279.25v3.2M106.77 279.25v1.8M119.86 279.25v3.2M132.95 279.25v1.8M146.04 279.25v3.2M159.12 279.25v1.8M172.21 279.25v3.2M185.3 279.25v1.8M198.39 279.25v3.2M211.48 279.25v1.8M224.57 279.25v3.2M237.66 279.25v1.8M250.75 279.25v3.2M67.5 391v3.2M80.59 391v1.8M93.68 391v3.2M106.77 391v1.8M119.86 391v3.2M132.95 391v1.8M146.04 391v3.2M159.12 391v1.8M172.21 391v3.2M185.3 391v1.8M198.39 391v3.2M211.48 391v1.8M224.57 391v3.2M237.66 391v1.8M250.75 391v3.2M67.5 278.4h-3.2M67.5 266.16h-3.2M67.5 253.92h-3.2M67.5 382h-3.2M67.5 365h-3.2M67.5 348h-3.2M67.5 331h-3.2M67.5 314h-3.2M67.5 297h-3.2M67.5 390.5h-1.8M67.5 373.5h-1.8M67.5 356.5h-1.8M67.5 339.5h-1.8M67.5 322.5h-1.8M67.5 305.5h-1.8" stroke="#2b2b2b" stroke-width="1" fill="none"/>
<text x="62.3" y="283" font-size="13.3" text-anchor="end" fill="#111" >0.0</text>
<text x="62.3" y="270.76" font-size="13.3" text-anchor="end" fill="#111" >0.4</text>
<text x="62.3" y="258.52" font-size="13.3" text-anchor="end" fill="#111" >0.8</text>
<text x="62.3" y="386.6" font-size="13.3" text-anchor="end" fill="#111" >0</text>
<text x="62.3" y="369.6" font-size="13.3" text-anchor="end" fill="#111" >2</text>
<text x="62.3" y="352.6" font-size="13.3" text-anchor="end" fill="#111" >4</text>
<text x="62.3" y="335.6" font-size="13.3" text-anchor="end" fill="#111" >6</text>
<text x="62.3" y="318.6" font-size="13.3" text-anchor="end" fill="#111" >8</text>
<text x="62.3" y="301.6" font-size="13.3" text-anchor="end" fill="#111" >10</text>
<text x="67.5" y="407.2" font-size="13.3" text-anchor="middle" fill="#111" >0</text>
<text x="93.68" y="407.2" font-size="13.3" text-anchor="middle" fill="#111" >1</text>
<text x="119.86" y="407.2" font-size="13.3" text-anchor="middle" fill="#111" >2</text>
<text x="146.04" y="407.2" font-size="13.3" text-anchor="middle" fill="#111" >3</text>
<text x="172.21" y="407.2" font-size="13.3" text-anchor="middle" fill="#111" >4</text>
<text x="198.39" y="407.2" font-size="13.3" text-anchor="middle" fill="#111" >5</text>
<text x="224.57" y="407.2" font-size="13.3" text-anchor="middle" fill="#111" >6</text>
<text x="250.75" y="407.2" font-size="13.3" text-anchor="middle" fill="#111" >7</text>
<text x="157.12" y="425.6" font-size="13.6" text-anchor="middle" fill="#111" >Time (s)</text>
<text x="0" y="0" font-size="13.6" text-anchor="middle" fill="#111" transform="translate(34.1 267.1) rotate(-90)">Voltage (V)</text>
<text x="0" y="0" font-size="13.6" text-anchor="middle" fill="#111" transform="translate(34.1 345) rotate(-90)">Current (µA)</text>
<polyline points="67.5,278.4 93.48,278.4" fill="none" stroke="#2b2b2b" stroke-width="1.7" stroke-linejoin="miter"/>
<polyline points="95.98,278.4 250.75,278.4" fill="none" stroke="#2b2b2b" stroke-width="1.7"/>
<polyline points="93.48,278.4 93.48,263.1 95.98,263.1 95.98,278.4" fill="none" stroke="#2b2b2b" stroke-width="1"/>
<text x="99" y="267.5" font-size="13.3" text-anchor="start" fill="#111" >0.5 V</text>
<line x1="67.5" y1="382" x2="250.75" y2="382" stroke="#8a8a8a" stroke-width="1" stroke-dasharray="4.2 3"/>
<polyline points="67.5,382 93.16,382 93.68,379.45 94.2,288.75 96.03,288.75 96.3,338.65 96.82,339.5 98.91,339.5 99.7,340.35 100.22,376.9 101.53,380.3 104.15,380.98 105.46,381.19 106.24,381.1 107.03,381.16 107.81,381.21 108.6,381.34 109.39,381.32 110.17,381.11 110.96,381.07 111.74,380.95 112.53,380.98 113.31,380.98 114.1,381.02 114.88,381.33 115.67,381.16 116.45,381.1 117.24,381.06 118.02,381.36 118.81,381.59 119.6,381.62 120.38,381.57 121.17,381.42 121.95,381.37 122.74,381.25 123.52,381.35 124.31,381.27 125.09,381.2 125.88,381.32 126.66,381.04 127.45,381.02 128.23,380.91 129.02,381.11 129.81,381.27 130.59,381.33 131.38,381.33 132.16,381.22 132.95,381.2 133.73,381.3 134.52,381.44 135.3,381.48 136.09,381.24 136.87,381.38 137.66,381.32 138.44,381.25 139.23,381.5 140.01,381.44 140.8,381.21 141.59,381.55 142.37,381.53 143.16,381.49 143.94,381.57 144.73,381.43 145.51,381.41 146.3,381.62 147.08,381.41 147.87,381.29 148.65,381.17 149.44,381.01 150.22,381.06 151.01,381.14 151.79,381.41 152.58,381.3 153.37,381.42 154.15,381.48 154.94,381.65 155.72,381.72 156.51,381.7 157.29,381.42 158.08,381.72 158.86,381.85 159.65,381.68 160.43,381.38 161.22,381.3 162,381.63 162.79,381.96 163.58,381.74 164.36,381.76 165.15,381.84 165.93,381.57 166.72,381.36 167.5,381.36 168.29,381.35 169.07,381.32 169.86,381.12 170.64,381.13 171.43,381.15 172.21,381.16 173,381.5 173.78,381.29 174.57,381.2 175.36,381.21 176.14,381.59 176.93,381.66 177.71,381.48 178.5,381.77 179.28,381.72 180.07,381.5 180.85,381.7 181.64,381.4 182.42,381.35 183.21,381.43 183.99,381.41 184.78,381.34 185.57,381.38 186.35,381.25 187.14,381.44 187.92,381.54 188.71,381.38 189.49,381.43 190.28,381.6 191.06,381.44 191.85,381.25 192.63,381.42 193.42,381.67 194.2,381.66 194.99,381.66 195.78,381.68 196.56,381.44 197.35,381.64 198.13,381.43 198.92,381.68 199.7,381.77 200.49,381.63 201.27,381.45 202.06,381.37 202.84,381.39 203.63,381.43 204.41,381.47 205.2,381.43 205.98,381.51 206.77,381.51 207.56,381.46 208.34,381.51 209.13,381.44 209.91,381.41 210.7,381.18 211.48,381.27 212.27,381.45 213.05,381.57 213.84,381.6 214.62,381.48 215.41,381.59 216.19,381.56 216.98,381.31 217.77,381.82 218.55,381.95 219.34,381.84 220.12,381.73 220.91,381.69 221.69,381.76 222.48,381.64 223.26,381.62 224.05,381.73 224.83,381.35 225.62,381.41 226.4,381.59 227.19,381.65 227.97,381.71 228.76,381.72 229.55,382.15 230.33,382.1 231.12,381.84 231.9,381.99 232.69,381.93 233.47,381.73 234.26,381.61 235.04,381.43 235.83,381.79 236.61,381.84 237.4,381.87 238.18,381.75 238.97,381.59 239.76,382.06 240.54,381.81 241.33,382.03 242.11,381.86 242.9,382.07 243.68,381.96 244.47,381.73 245.25,381.78 246.04,381.76 246.82,381.66 247.61,381.69 248.39,381.74 249.18,381.53 249.96,381.46 250.75,381.62" fill="none" stroke="#274d4a" stroke-width="1.15" stroke-linejoin="round"/>
<rect x="68.75" y="452" width="183.25" height="28.75" fill="#fff" stroke="#2b2b2b" stroke-width="1.25"/>
<rect x="68.75" y="489.5" width="183.25" height="102.5" fill="#fff" stroke="#2b2b2b" stroke-width="1.25"/>
<path d="M68.75 480.75v3.2M81.84 480.75v1.8M94.93 480.75v3.2M108.02 480.75v1.8M121.11 480.75v3.2M134.2 480.75v1.8M147.29 480.75v3.2M160.38 480.75v1.8M173.46 480.75v3.2M186.55 480.75v1.8M199.64 480.75v3.2M212.73 480.75v1.8M225.82 480.75v3.2M238.91 480.75v1.8M252 480.75v3.2M68.75 592v3.2M81.84 592v1.8M94.93 592v3.2M108.02 592v1.8M121.11 592v3.2M134.2 592v1.8M147.29 592v3.2M160.38 592v1.8M173.46 592v3.2M186.55 592v1.8M199.64 592v3.2M212.73 592v1.8M225.82 592v3.2M238.91 592v1.8M252 592v3.2M68.75 480h-3.2M68.75 467.52h-3.2M68.75 455.04h-3.2M68.75 583.25h-3.2M68.75 566.2h-3.2M68.75 549.15h-3.2M68.75 532.1h-3.2M68.75 515.05h-3.2M68.75 498h-3.2M68.75 591.77h-1.8M68.75 574.73h-1.8M68.75 557.67h-1.8M68.75 540.62h-1.8M68.75 523.58h-1.8M68.75 506.52h-1.8" stroke="#2b2b2b" stroke-width="1" fill="none"/>
<text x="63.5" y="484.6" font-size="13.3" text-anchor="end" fill="#111" >0.0</text>
<text x="63.5" y="472.12" font-size="13.3" text-anchor="end" fill="#111" >0.4</text>
<text x="63.5" y="459.64" font-size="13.3" text-anchor="end" fill="#111" >0.8</text>
<text x="63.5" y="587.85" font-size="13.3" text-anchor="end" fill="#111" >0</text>
<text x="63.5" y="570.8" font-size="13.3" text-anchor="end" fill="#111" >2</text>
<text x="63.5" y="553.75" font-size="13.3" text-anchor="end" fill="#111" >4</text>
<text x="63.5" y="536.7" font-size="13.3" text-anchor="end" fill="#111" >6</text>
<text x="63.5" y="519.65" font-size="13.3" text-anchor="end" fill="#111" >8</text>
<text x="63.5" y="502.6" font-size="13.3" text-anchor="end" fill="#111" >10</text>
<text x="68.75" y="607.8" font-size="13.3" text-anchor="middle" fill="#111" >0</text>
<text x="94.93" y="607.8" font-size="13.3" text-anchor="middle" fill="#111" >1</text>
<text x="121.11" y="607.8" font-size="13.3" text-anchor="middle" fill="#111" >2</text>
<text x="147.29" y="607.8" font-size="13.3" text-anchor="middle" fill="#111" >3</text>
<text x="173.46" y="607.8" font-size="13.3" text-anchor="middle" fill="#111" >4</text>
<text x="199.64" y="607.8" font-size="13.3" text-anchor="middle" fill="#111" >5</text>
<text x="225.82" y="607.8" font-size="13.3" text-anchor="middle" fill="#111" >6</text>
<text x="252" y="607.8" font-size="13.3" text-anchor="middle" fill="#111" >7</text>
<text x="158.38" y="626.6" font-size="13.6" text-anchor="middle" fill="#111" >Time (s)</text>
<text x="0" y="0" font-size="13.6" text-anchor="middle" fill="#111" transform="translate(34.7 469) rotate(-90)">Voltage (V)</text>
<text x="0" y="0" font-size="13.6" text-anchor="middle" fill="#111" transform="translate(34.7 547.5) rotate(-90)">Current (µA)</text>
<polyline points="68.75,480 94.73,480" fill="none" stroke="#2b2b2b" stroke-width="1.7" stroke-linejoin="miter"/>
<polyline points="97.23,480 252,480" fill="none" stroke="#2b2b2b" stroke-width="1.7"/>
<polyline points="94.73,480 94.73,461.28 97.23,461.28 97.23,480" fill="none" stroke="#2b2b2b" stroke-width="1"/>
<text x="101" y="467.5" font-size="13.3" text-anchor="start" fill="#111" >0.6 V</text>
<line x1="68.75" y1="583.25" x2="252" y2="583.25" stroke="#8f8c62" stroke-width="1" stroke-dasharray="4.2 3"/>
<polyline points="68.75,583.25 94.67,583.25 95.19,489.5 97.28,489.5 97.55,538.07 98.07,537.51 98.86,538.2 99.65,538.02 100.44,538.32 101.24,538.43 102.03,538.33 102.82,538.44 103.61,538.39 104.4,539.14 105.19,539.76 105.98,539.5 106.77,539.88 107.57,540.22 108.36,540.66 109.15,540.05 109.94,539.77 110.73,539.3 111.52,539.8 112.31,539.88 113.1,540.37 113.9,540.09 114.69,539.59 115.48,540.09 116.27,539.63 117.06,539.48 117.85,539.8 118.64,540.71 119.44,540.24 120.23,540.42 121.02,540.76 121.81,540.69 122.6,540.65 123.39,540.24 124.18,540.83 124.97,540.54 125.77,540.21 126.56,539.96 127.35,540.37 128.14,540.91 128.93,540.73 129.72,540.92 130.51,541.09 131.3,540.77 132.1,541.14 132.89,542.18 134.2,544.03 135.24,546.59 135.77,582.4 136.81,582.83 137.6,583.23 138.39,582.89 139.18,582.77 139.97,582.9 140.76,582.85 141.55,582.62 142.34,582.64 143.13,582.36 143.91,582.48 144.7,582.32 145.49,582.09 146.28,581.91 147.07,582.31 147.86,582.23 148.65,582.81 149.44,583.03 150.23,583.39 151.02,582.94 151.8,583.16 152.59,583.03 153.38,582.98 154.17,582.9 154.96,582.98 155.75,582.84 156.54,582.39 157.33,582.48 158.12,582.42 158.9,582.28 159.69,582.45 160.48,582.81 161.27,582.91 162.06,582.6 162.85,583.01 163.64,583.05 164.43,582.71 165.22,582.52 166.01,582.57 166.79,582.42 167.58,582.47 168.37,582.8 169.16,583.13 169.95,583.14 170.74,582.79 171.53,582.89 172.32,583.04 173.11,583.11 173.89,583.33 174.68,583.16 175.47,583.29 176.26,583.02 177.05,583.46 177.84,583.15 178.63,583.15 179.42,583.46 180.21,583.05 181,583 181.78,583.42 182.57,583.39 183.36,583.11 184.15,583.08 184.94,582.78 185.73,582.57 186.52,582.44 187.31,582.43 188.1,582.2 188.88,582.18 189.67,582.22 190.46,582.83 191.25,582.57 192.04,582.3 192.83,582.47 193.62,582.63 194.41,582.19 195.2,582.73 195.99,582.6 196.77,582.06 197.56,582.45 198.35,582.35 199.14,582 199.93,582.22 200.72,582.22 201.51,582.14 202.3,582.5 203.09,582.56 203.87,582.51 204.66,582.36 205.45,582.45 206.24,582.55 207.03,582.81 207.82,582.84 208.61,582.57 209.4,582.56 210.19,582.78 210.97,582.93 211.76,582.22 212.55,582.08 213.34,582.1 214.13,582.85 214.92,582.64 215.71,582.52 216.5,582.16 217.29,582.2 218.08,582.34 218.86,582.3 219.65,582.84 220.44,582.54 221.23,582.48 222.02,582.68 222.81,582.36 223.6,582.01 224.39,582.51 225.18,582.7 225.96,582.6 226.75,582.56 227.54,582.66 228.33,582.87 229.12,582.3 229.91,582.15 230.7,582.56 231.49,582.88 232.28,582.4 233.07,582.23 233.85,581.92 234.64,581.94 235.43,582.33 236.22,582.35 237.01,582.92 237.8,582.99 238.59,582.88 239.38,582.67 240.17,582.81 240.95,582.77 241.74,582.61 242.53,582.51 243.32,582.39 244.11,582.4 244.9,582.52 245.69,582.36 246.48,582.41 247.27,582.65 248.06,582.77 248.84,582.71 249.63,582.69 250.42,582.62 251.21,582.6 252,582.55" fill="none" stroke="#274d4a" stroke-width="1.15" stroke-linejoin="round"/>
<rect x="320.5" y="451" width="183.75" height="28.75" fill="#fff" stroke="#2b2b2b" stroke-width="1.25"/>
<rect x="320.5" y="488.75" width="183.75" height="101.75" fill="#fff" stroke="#2b2b2b" stroke-width="1.25"/>
<path d="M320.5 479.75v3.2M333.62 479.75v1.8M346.75 479.75v3.2M359.88 479.75v1.8M373 479.75v3.2M386.12 479.75v1.8M399.25 479.75v3.2M412.38 479.75v1.8M425.5 479.75v3.2M438.62 479.75v1.8M451.75 479.75v3.2M464.88 479.75v1.8M478 479.75v3.2M491.12 479.75v1.8M504.25 479.75v3.2M320.5 590.5v3.2M333.62 590.5v1.8M346.75 590.5v3.2M359.88 590.5v1.8M373 590.5v3.2M386.12 590.5v1.8M399.25 590.5v3.2M412.38 590.5v1.8M425.5 590.5v3.2M438.62 590.5v1.8M451.75 590.5v3.2M464.88 590.5v1.8M478 590.5v3.2M491.12 590.5v1.8M504.25 590.5v3.2M320.5 478.9h-3.2M320.5 466.66h-3.2M320.5 454.42h-3.2M320.5 582h-3.2M320.5 565h-3.2M320.5 548h-3.2M320.5 531h-3.2M320.5 514h-3.2M320.5 497h-3.2M320.5 573.5h-1.8M320.5 556.5h-1.8M320.5 539.5h-1.8M320.5 522.5h-1.8M320.5 505.5h-1.8" stroke="#2b2b2b" stroke-width="1" fill="none"/>
<text x="316.8" y="483.5" font-size="13.3" text-anchor="end" fill="#111" >0.0</text>
<text x="316.8" y="471.26" font-size="13.3" text-anchor="end" fill="#111" >0.4</text>
<text x="316.8" y="459.02" font-size="13.3" text-anchor="end" fill="#111" >0.8</text>
<text x="316.8" y="586.6" font-size="13.3" text-anchor="end" fill="#111" >0</text>
<text x="316.8" y="569.6" font-size="13.3" text-anchor="end" fill="#111" >2</text>
<text x="316.8" y="552.6" font-size="13.3" text-anchor="end" fill="#111" >4</text>
<text x="316.8" y="535.6" font-size="13.3" text-anchor="end" fill="#111" >6</text>
<text x="316.8" y="518.6" font-size="13.3" text-anchor="end" fill="#111" >8</text>
<text x="316.8" y="501.6" font-size="13.3" text-anchor="end" fill="#111" >10</text>
<text x="320.5" y="607.2" font-size="13.3" text-anchor="middle" fill="#111" >0</text>
<text x="346.75" y="607.2" font-size="13.3" text-anchor="middle" fill="#111" >1</text>
<text x="373" y="607.2" font-size="13.3" text-anchor="middle" fill="#111" >2</text>
<text x="399.25" y="607.2" font-size="13.3" text-anchor="middle" fill="#111" >3</text>
<text x="425.5" y="607.2" font-size="13.3" text-anchor="middle" fill="#111" >4</text>
<text x="451.75" y="607.2" font-size="13.3" text-anchor="middle" fill="#111" >5</text>
<text x="478" y="607.2" font-size="13.3" text-anchor="middle" fill="#111" >6</text>
<text x="504.25" y="607.2" font-size="13.3" text-anchor="middle" fill="#111" >7</text>
<text x="410.38" y="626" font-size="13.6" text-anchor="middle" fill="#111" >Time (s)</text>
<text x="0" y="0" font-size="13.6" text-anchor="middle" fill="#111" transform="translate(287 467.4) rotate(-90)">Voltage (V)</text>
<text x="0" y="0" font-size="13.6" text-anchor="middle" fill="#111" transform="translate(287 546.2) rotate(-90)">Current (µA)</text>
<polyline points="320.5,478.9 346.55,478.9" fill="none" stroke="#2b2b2b" stroke-width="1.7" stroke-linejoin="miter"/>
<polyline points="349.05,478.9 504.25,478.9" fill="none" stroke="#2b2b2b" stroke-width="1.7"/>
<polyline points="346.55,478.9 346.55,457.48 349.05,457.48 349.05,478.9" fill="none" stroke="#2b2b2b" stroke-width="1"/>
<text x="352" y="464.5" font-size="13.3" text-anchor="start" fill="#111" >0.7 V</text>
<line x1="320.5" y1="582" x2="504.25" y2="582" stroke="#9c8c62" stroke-width="1" stroke-dasharray="4.2 3"/>
<polyline points="320.5,582 346.49,582 347.01,488.75 349.11,488.75 349.38,554.8 349.9,555.85 350.69,556.13 351.49,555.95 352.28,555.67 353.07,555.62 353.87,555.73 354.66,555.66 355.45,555.94 356.25,556.35 357.04,556.18 357.83,556.3 358.63,556 359.42,556.2 360.21,556.71 361,556.69 361.8,556.08 362.59,556.11 363.38,556.35 364.18,556.38 364.97,556.11 365.76,555.93 366.56,555.88 367.35,555.54 368.14,555.48 368.94,555.61 369.73,555.56 370.52,555.28 371.32,555.24 372.11,555.21 372.9,555.67 373.7,555.77 374.49,555.65 375.28,555.8 376.08,555.59 376.87,555.55 377.66,555.45 378.46,555.64 379.25,555.15 380.04,555.1 380.84,555.4 381.63,555.54 382.42,555.06 383.21,555.41 384.01,555.37 384.8,555.32 385.59,555.51 386.39,555.91 387.18,555.88 387.97,555.82 388.77,555.6 389.56,555.53 390.35,555.66 391.15,555.56 391.94,555.56 392.73,555.64 393.53,555.73 394.32,555.86 395.11,555.74 395.91,556.06 396.7,556.18 397.49,556.12 398.29,556.42 399.08,556.39 399.87,556.74 400.67,556.67 401.46,556.34 402.25,556.11 403.04,556.1 403.84,556.12 404.63,556.42 405.42,555.88 406.22,555.8 407.01,555.62 407.8,555.94 408.6,556.01 409.39,556.44 410.18,556.14 410.98,555.89 411.77,556.37 412.56,556.29 413.36,556.07 414.15,556.47 414.94,556.76 415.74,556.8 416.53,556.72 417.32,556.84 418.12,556.6 418.91,556.39 419.7,556.15 420.5,555.96 421.29,555.65 422.08,555.51 422.88,555.98 424.98,556.5 426.29,559.05 427.07,565 427.34,580.73 428.12,581.1 428.92,581.3 429.71,581.45 430.5,581.33 431.3,581.22 432.09,581.03 432.88,581.37 433.68,581.54 434.47,581.37 435.26,581.29 436.05,581.26 436.85,581.19 437.64,581.29 438.43,581.03 439.23,580.92 440.02,580.95 440.81,581.1 441.61,581.1 442.4,581.68 443.19,581.68 443.98,581.45 444.78,581.64 445.57,581.38 446.36,581.22 447.16,581.45 447.95,581.35 448.74,581.3 449.54,581.08 450.33,580.89 451.12,580.91 451.91,581.11 452.71,581.09 453.5,581.05 454.29,580.84 455.09,580.8 455.88,581 456.67,581.28 457.46,581.26 458.26,581.32 459.05,581.45 459.84,581.32 460.64,581.3 461.43,581.16 462.22,580.96 463.02,581.04 463.81,580.46 464.6,580.67 465.39,580.48 466.19,580.58 466.98,580.41 467.77,581.1 468.57,581.21 469.36,581.05 470.15,580.86 470.95,580.33 471.74,580.42 472.53,580.27 473.32,580.27 474.12,580.24 474.91,580.31 475.7,580.51 476.5,580.5 477.29,580.86 478.08,580.59 478.88,580.9 479.67,580.83 480.46,580.36 481.25,580.56 482.05,580.64 482.84,580.44 483.63,580.56 484.43,580.83 485.22,580.78 486.01,580.66 486.8,580.56 487.6,580.82 488.39,580.42 489.18,580.17 489.98,580.36 490.77,580.44 491.56,580.66 492.36,580.39 493.15,580.68 493.94,580.57 494.73,580.76 495.53,580.94 496.32,580.74 497.11,580.46 497.91,580.57 498.7,580.8 499.49,580.62 500.29,580.69 501.08,580.65 501.87,580.35 502.66,580.23 503.46,580.52 504.25,580.08" fill="none" stroke="#274d4a" stroke-width="1.15" stroke-linejoin="round"/>
<rect x="575.75" y="451.25" width="182.5" height="28.75" fill="#fff" stroke="#2b2b2b" stroke-width="1.25"/>
<rect x="575.75" y="488.75" width="182.5" height="102.5" fill="#fff" stroke="#2b2b2b" stroke-width="1.25"/>
<path d="M575.75 480v3.2M588.79 480v1.8M601.82 480v3.2M614.86 480v1.8M627.89 480v3.2M640.93 480v1.8M653.96 480v3.2M667 480v1.8M680.04 480v3.2M693.07 480v1.8M706.11 480v3.2M719.14 480v1.8M732.18 480v3.2M745.21 480v1.8M758.25 480v3.2M575.75 591.25v3.2M588.79 591.25v1.8M601.82 591.25v3.2M614.86 591.25v1.8M627.89 591.25v3.2M640.93 591.25v1.8M653.96 591.25v3.2M667 591.25v1.8M680.04 591.25v3.2M693.07 591.25v1.8M706.11 591.25v3.2M719.14 591.25v1.8M732.18 591.25v3.2M745.21 591.25v1.8M758.25 591.25v3.2M575.75 479.4h-3.2M575.75 467.08h-3.2M575.75 454.76h-3.2M575.75 582.5h-3.2M575.75 565.4h-3.2M575.75 548.3h-3.2M575.75 531.2h-3.2M575.75 514.1h-3.2M575.75 497h-3.2M575.75 591.05h-1.8M575.75 573.95h-1.8M575.75 556.85h-1.8M575.75 539.75h-1.8M575.75 522.65h-1.8M575.75 505.55h-1.8" stroke="#2b2b2b" stroke-width="1" fill="none"/>
<text x="572" y="484" font-size="13.3" text-anchor="end" fill="#111" >0.0</text>
<text x="572" y="471.68" font-size="13.3" text-anchor="end" fill="#111" >0.4</text>
<text x="572" y="459.36" font-size="13.3" text-anchor="end" fill="#111" >0.8</text>
<text x="572" y="587.1" font-size="13.3" text-anchor="end" fill="#111" >0</text>
<text x="572" y="570" font-size="13.3" text-anchor="end" fill="#111" >2</text>
<text x="572" y="552.9" font-size="13.3" text-anchor="end" fill="#111" >4</text>
<text x="572" y="535.8" font-size="13.3" text-anchor="end" fill="#111" >6</text>
<text x="572" y="518.7" font-size="13.3" text-anchor="end" fill="#111" >8</text>
<text x="572" y="501.6" font-size="13.3" text-anchor="end" fill="#111" >10</text>
<text x="575.75" y="607.6" font-size="13.3" text-anchor="middle" fill="#111" >0</text>
<text x="601.82" y="607.6" font-size="13.3" text-anchor="middle" fill="#111" >1</text>
<text x="627.89" y="607.6" font-size="13.3" text-anchor="middle" fill="#111" >2</text>
<text x="653.96" y="607.6" font-size="13.3" text-anchor="middle" fill="#111" >3</text>
<text x="680.04" y="607.6" font-size="13.3" text-anchor="middle" fill="#111" >4</text>
<text x="706.11" y="607.6" font-size="13.3" text-anchor="middle" fill="#111" >5</text>
<text x="732.18" y="607.6" font-size="13.3" text-anchor="middle" fill="#111" >6</text>
<text x="758.25" y="607.6" font-size="13.3" text-anchor="middle" fill="#111" >7</text>
<text x="665" y="626.4" font-size="13.6" text-anchor="middle" fill="#111" >Time (s)</text>
<text x="0" y="0" font-size="13.6" text-anchor="middle" fill="#111" transform="translate(541.5 467.4) rotate(-90)">Voltage (V)</text>
<text x="0" y="0" font-size="13.6" text-anchor="middle" fill="#111" transform="translate(541.5 546.2) rotate(-90)">Current (µA)</text>
<polyline points="575.75,479.4 601.62,479.4" fill="none" stroke="#2b2b2b" stroke-width="1.7" stroke-linejoin="miter"/>
<polyline points="604.12,479.4 758.25,479.4" fill="none" stroke="#2b2b2b" stroke-width="1.7"/>
<polyline points="601.62,479.4 601.62,454.76 604.12,454.76 604.12,479.4" fill="none" stroke="#2b2b2b" stroke-width="1"/>
<text x="606.5" y="463.5" font-size="13.3" text-anchor="start" fill="#111" >0.8 V</text>
<line x1="601.82" y1="582.5" x2="758.25" y2="582.5" stroke="#a3827a" stroke-width="1" stroke-dasharray="4.2 3"/>
<polyline points="575.75,582.5 601.56,582.5 602.6,488.75 603.65,488.75 604.43,570.53 605.73,572.24 608.34,573.1 612.25,574.38 616.16,575.66 620.07,575.83 621.38,575.23 622.16,575.02 622.94,575.26 623.72,575.26 624.5,575.72 625.29,575.1 626.07,574.77 626.85,575.24 627.63,575.64 628.41,575.95 629.2,575.42 629.98,575.49 630.76,575.43 631.54,575.45 632.33,575.42 633.11,575.66 633.89,575.52 634.67,575.82 635.45,575.67 636.24,575.45 637.02,575.26 637.8,575.31 638.58,575.53 639.36,575.4 640.15,575.48 640.93,574.98 641.71,574.85 642.49,575 643.27,575.19 644.06,575.4 644.84,575.6 645.62,575.58 646.4,575.4 647.19,575.21 647.97,575.06 648.75,574.55 649.53,574.94 650.31,575.03 651.1,574.34 651.88,575.11 652.66,575.29 653.44,575.22 654.23,575.19 655.01,575.09 655.79,575.2 656.57,575.11 657.35,575.13 658.14,574.95 658.92,575.55 659.7,575.69 660.48,575.55 661.26,575.74 662.05,575.87 662.83,575.51 663.61,575.6 664.39,575.32 665.17,575.09 665.96,575.05 666.74,574.97 667.52,575.08 668.3,575.5 669.09,575.43 669.87,575.25 670.65,575.39 671.43,575.37 672.21,575.12 673,575.39 673.78,575.17 674.56,574.69 675.34,575 676.12,575.03 676.91,575.13 677.69,574.75 678.47,574.81 679.25,574.69 680.04,575.04 680.82,575.1 681.6,575.14 682.38,575.65 683.16,575.14 683.95,574.92 684.73,575.49 685.51,575.21 686.29,575.25 687.08,575.13 687.86,575.06 688.64,575.51 689.42,575.49 690.2,575.01 690.99,575.23 691.77,575.51 692.55,575.79 693.33,575.95 694.11,575.65 694.9,575.07 695.68,575 696.46,575 697.24,574.47 698.02,574.84 698.81,575.14 699.59,575.02 700.37,574.94 701.15,575.3 701.94,575.6 702.72,575.41 703.5,575.29 704.28,575.62 705.06,575.56 705.85,575.61 706.63,575.37 707.41,575.36 708.19,575.35 708.98,575.41 709.76,575.07 710.54,574.74 711.32,574.99 712.1,574.83 712.89,575.16 713.67,575.16 714.45,574.98 715.23,574.65 716.01,574.93 716.8,575.04 717.58,575.04 718.36,575.5 719.14,575.42 719.92,575.54 720.71,575.35 721.49,575.62 722.27,576.04 723.05,575.78 723.84,575.55 724.62,575.6 725.4,575.25 726.18,575.32 726.96,575.46 727.75,575.26 728.53,575.67 729.31,575.72 730.09,575.58 730.88,575.25 731.66,575.29 732.44,575.19 733.22,575.38 734,575.25 734.79,574.8 735.57,575.11 736.35,574.51 737.13,574.9 737.91,575 738.7,575.02 739.48,574.81 740.26,575.27 741.04,575.82 741.83,575.48 742.61,575.19 743.39,575.04 744.17,574.39 744.95,574.59 745.74,574.71 746.52,574.62 747.3,574.7 748.08,574.41 748.86,574.99 749.65,575.17 750.43,576.11 751.21,575.63 751.99,575.61 752.77,575.25 753.56,574.66 754.34,574.84 755.12,575.02 755.9,575.22 756.69,575.45 757.47,575.55 758.25,575.29 758.25,573.95" fill="none" stroke="#274d4a" stroke-width="1.25" stroke-linejoin="round"/>
<rect x="68.75" y="655.5" width="183.75" height="28.5" fill="#fff" stroke="#2b2b2b" stroke-width="1.25"/>
<rect x="68.75" y="692.5" width="183.75" height="103" fill="#fff" stroke="#2b2b2b" stroke-width="1.25"/>
<path d="M68.75 684v3.2M81.88 684v1.8M95 684v3.2M108.12 684v1.8M121.25 684v3.2M134.38 684v1.8M147.5 684v3.2M160.62 684v1.8M173.75 684v3.2M186.88 684v1.8M200 684v3.2M213.12 684v1.8M226.25 684v3.2M239.38 684v1.8M252.5 684v3.2M68.75 795.5v3.2M81.88 795.5v1.8M95 795.5v3.2M108.12 795.5v1.8M121.25 795.5v3.2M134.38 795.5v1.8M147.5 795.5v3.2M160.62 795.5v1.8M173.75 795.5v3.2M186.88 795.5v1.8M200 795.5v3.2M213.12 795.5v1.8M226.25 795.5v3.2M239.38 795.5v1.8M252.5 795.5v3.2M68.75 659.3h-3.2M68.75 669.18h-3.2M68.75 679.06h-3.2M68.75 704.75h-3.2M68.75 730.5h-3.2M68.75 756.75h-3.2M68.75 782.25h-3.2M68.75 717.62h-1.8M68.75 769.5h-1.8" stroke="#2b2b2b" stroke-width="1" fill="none"/>
<text x="63.5" y="663.9" font-size="13.3" text-anchor="end" fill="#111" >0.0</text>
<text x="63.5" y="673.78" font-size="13.3" text-anchor="end" fill="#111" >-0.2</text>
<text x="63.5" y="683.66" font-size="13.3" text-anchor="end" fill="#111" >-0.4</text>
<text x="63.5" y="709.35" font-size="13.3" text-anchor="end" fill="#111" >1</text>
<text x="63.5" y="735.1" font-size="13.3" text-anchor="end" fill="#111" >0</text>
<text x="63.5" y="761.35" font-size="13.3" text-anchor="end" fill="#111" >-7</text>
<text x="63.5" y="786.85" font-size="13.3" text-anchor="end" fill="#111" >-8</text>
<text x="68.75" y="810.6" font-size="13.3" text-anchor="middle" fill="#111" >0</text>
<text x="95" y="810.6" font-size="13.3" text-anchor="middle" fill="#111" >1</text>
<text x="121.25" y="810.6" font-size="13.3" text-anchor="middle" fill="#111" >2</text>
<text x="147.5" y="810.6" font-size="13.3" text-anchor="middle" fill="#111" >3</text>
<text x="173.75" y="810.6" font-size="13.3" text-anchor="middle" fill="#111" >4</text>
<text x="200" y="810.6" font-size="13.3" text-anchor="middle" fill="#111" >5</text>
<text x="226.25" y="810.6" font-size="13.3" text-anchor="middle" fill="#111" >6</text>
<text x="252.5" y="810.6" font-size="13.3" text-anchor="middle" fill="#111" >7</text>
<text x="158.62" y="829.8" font-size="13.6" text-anchor="middle" fill="#111" >Time (s)</text>
<text x="0" y="0" font-size="13.6" text-anchor="middle" fill="#111" transform="translate(30.5 671.1) rotate(-90)">Voltage (V)</text>
<text x="0" y="0" font-size="13.6" text-anchor="middle" fill="#111" transform="translate(30.5 749.8) rotate(-90)">Current (µA)</text>
<polyline points="68.75,659.3 94.8,659.3" fill="none" stroke="#2b2b2b" stroke-width="1.7" stroke-linejoin="miter"/>
<polyline points="97.3,659.3 252.5,659.3" fill="none" stroke="#2b2b2b" stroke-width="1.7"/>
<polyline points="94.8,659.3 94.8,674.12 97.3,674.12 97.3,659.3" fill="none" stroke="#2b2b2b" stroke-width="1"/>
<text x="104" y="676.5" font-size="13.3" text-anchor="start" fill="#111" >-0.3 V</text>
<line x1="68.75" y1="699.09" x2="252.5" y2="699.09" stroke="#8e8e8e" stroke-width="1" stroke-dasharray="4.2 3"/>
<polyline points="68.75,699.07 69.28,699.06 69.81,698.93 70.34,699.13 70.87,699.44 71.4,698.64 71.93,698.75 72.46,698.98 72.99,698.98 73.52,698.81 74.05,699.56 74.59,698.78 75.12,698.98 75.65,699.06 76.18,699.1 76.71,699.75 77.24,698.67 77.77,699.2 78.3,699.09 78.3,695.37 78.51,699.09 78.83,698.86 79.36,699.09 79.36,696.23 79.57,699.09 79.89,699.64 80.42,698.35 80.95,699.29 81.48,699.41 82.01,698.93 82.54,698.92 83.07,699.56 83.6,699.3 84.13,699.26 84.66,699.06 85.19,699.21 85.72,699.08 86.26,698.97 86.79,699.48 87.32,698.32 87.85,699.1 88.38,698.96 88.91,699.17 89.44,699.41 89.97,699.42 90.5,699.4 91.03,699.17 91.56,699.22 92.09,699.36 92.62,699.21 93.15,699.08 93.68,698.85 94.21,699.33 94.34,696.25 94.87,699.09 95.13,784.8 95.53,755.48 96.05,746.55 96.44,754.2 96.97,745.27 97.36,744 97.62,706.55 98.94,706.63 99.74,706.38 100.55,706.43 101.35,706.41 102.16,706.11 102.96,706.55 103.76,706.99 104.57,706.67 105.37,706.48 106.18,706.33 106.98,706.69 107.79,706.57 108.59,706.55 109.4,706.54 110.2,706.41 111,706.23 111.81,705.82 112.61,706.36 113.42,706.58 114.22,706.78 115.03,706.39 115.83,706.51 116.64,706.42 117.44,706.32 118.24,706.76 119.05,706.44 119.85,706.25 120.66,706.36 121.46,706.43 122.27,706.46 123.07,706.33 123.88,706.27 124.4,705.32 125.19,705.7 125.99,705.87 126.78,705.75 127.58,705.63 128.37,705.78 129.16,705.31 129.96,705.26 130.75,705.1 131.55,705.06 132.34,704.7 133.13,705.02 133.93,705.17 134.72,705.02 135.52,704.98 136.31,705.48 137.11,705.58 137.9,705.39 138.69,705.3 139.49,705.42 140.28,705.68 141.08,705.64 141.87,705.32 142.66,705.1 143.46,705.25 144.25,705.52 145.05,705.57 145.84,705.98 146.63,705.51 147.43,705.19 148.22,705.23 149.02,705.11 149.81,704.74 150.6,704.9 151.4,704.99 152.19,704.84 152.99,705.14 153.78,705.06 154.57,705.37 155.37,705.11 156.16,705.36 156.69,705.26 157.21,698.31 158,698.28 158.52,698.27 159.05,698.2 159.57,698.38 160.1,698.49 160.62,698.32 161.15,698.18 161.68,698.38 162.2,698.31 162.2,694.54 162.41,698.31 162.73,698.35 163.25,698.41 163.78,698.3 164.3,697.96 164.82,698.56 165.35,698.26 165.88,698.53 166.4,698.22 166.92,698.49 167.45,698.31 167.45,695.61 167.66,698.31 167.97,698.35 168.5,698.24 169.02,698.37 169.55,698.31 169.55,695.07 169.76,698.31 170.07,698.17 170.6,698.5 171.12,698.5 171.65,698.72 172.18,698.11 172.7,697.89 173.23,698.25 173.75,698.27 174.27,698.85 174.8,698.31 174.8,695.33 175.01,698.31 175.32,698.31 175.32,695.31 175.53,698.31 175.85,698.4 176.38,698.31 176.38,694.86 176.58,698.31 176.9,698.31 176.9,695.22 177.11,698.31 177.42,698.68 177.95,698.15 178.47,698.36 179,698.38 179.52,698.88 180.05,699.09 180.57,698.27 181.1,698.31 181.1,695.45 181.31,698.31 181.62,699.01 182.15,697.96 182.68,697.76 183.2,698.09 183.72,698.03 184.25,698.34 184.77,698.31 184.77,695.71 184.99,698.31 185.3,697.93 185.82,697.7 186.35,698.31 186.35,695.18 186.56,698.31 186.88,697.84 187.4,698.71 187.93,697.83 188.45,698.21 188.98,698.41 189.5,698.75 190.03,697.97 190.55,698.57 191.07,698.45 191.6,698.31 191.6,694.73 191.81,698.31 192.12,697.86 192.65,698.88 193.18,698.99 193.7,698.31 193.7,695.76 193.91,698.31 194.23,698.3 194.75,698.65 195.28,698.31 195.28,695.64 195.49,698.31 195.8,698.31 195.8,695.45 196.01,698.31 196.32,698.31 196.32,695.44 196.53,698.31 196.85,698.25 197.38,697.91 197.9,698.31 197.9,694.55 198.11,698.31 198.42,698.56 198.95,698.23 199.47,698.2 200,698.25 200.53,698.31 200.53,695 200.73,698.31 201.05,698.58 201.58,698.42 202.1,697.85 202.62,698.51 203.15,697.95 203.67,698.21 204.2,698.31 204.2,695.14 204.41,698.31 204.72,698.12 205.25,698.18 205.78,698.15 206.3,698.67 206.82,698.75 207.35,698.34 207.88,698.22 208.4,698.32 208.93,698.35 209.45,698.81 209.97,698.2 210.5,698.31 210.5,695.48 210.71,698.31 211.03,698.17 211.55,698.51 212.07,698.87 212.6,698.62 213.12,698.42 213.65,698.36 214.18,697.87 214.7,698.27 215.22,698.35 215.75,698.34 216.28,699.06 216.8,698.11 217.33,698.5 217.85,698.64 218.37,698.66 218.9,698.89 219.43,698.2 219.95,698.77 220.47,698.12 221,698.31 221,694.59 221.21,698.31 221.53,698.31 221.53,695.95 221.73,698.31 222.05,697.76 222.57,698.31 222.57,695.95 222.78,698.31 223.1,697.85 223.62,698.19 224.15,698.32 224.67,698.43 225.2,698.08 225.72,698.31 225.72,694.65 225.94,698.31 226.25,698.31 226.25,695.68 226.46,698.31 226.78,698.31 226.78,695.94 226.98,698.31 227.3,697.99 227.83,698.77 228.35,698.31 228.35,695.84 228.56,698.31 228.88,698.5 229.4,698.24 229.92,698.31 229.92,695.6 230.13,698.31 230.45,698.41 230.97,697.83 231.5,697.96 232.03,698.39 232.55,698 233.07,698.25 233.6,698.59 234.12,697.92 234.65,698.23 235.17,698.42 235.7,698.1 236.22,698.31 236.75,697.95 237.28,698.3 237.8,698.17 238.33,697.98 238.85,698.36 239.38,697.57 239.9,698.31 239.9,695.01 240.11,698.31 240.42,698.31 240.42,694.78 240.63,698.31 240.95,698.49 241.47,698.83 242,698.56 242.53,698.31 242.53,694.62 242.73,698.31 243.05,698.11 243.58,698.28 244.1,698.61 244.62,698.31 245.15,698.68 245.68,698.22 246.2,698.49 246.72,698.31 246.72,694.69 246.93,698.31 247.25,698.58 247.78,698.75 248.3,698.31 248.3,695.28 248.51,698.31 248.83,698.71 249.35,698.3 249.88,698.11 250.4,698.31 250.4,695.61 250.61,698.31 250.92,698.46 251.45,698.49 251.97,698.34 252.5,698.31 252.5,694.51 252.71,698.31" fill="none" stroke="#274d4a" stroke-width="1.15" stroke-linejoin="round"/>
<rect x="93.42" y="743.2" width="6.83" height="1.6" fill="#fff"/>
<rect x="66.75" y="743" width="4" height="2" fill="#fff"/>
<path d="M65.95 744.1l5.6 -2M65.95 746.2l5.6 -2" stroke="#2b2b2b" stroke-width="1" fill="none"/>
<rect x="250.5" y="743" width="4" height="2" fill="#fff"/>
<path d="M249.7 744.1l5.6 -2M249.7 746.2l5.6 -2" stroke="#2b2b2b" stroke-width="1" fill="none"/>
<rect x="322.5" y="655.5" width="184.5" height="28" fill="#fff" stroke="#2b2b2b" stroke-width="1.25"/>
<rect x="322.5" y="693" width="184.5" height="102.5" fill="#fff" stroke="#2b2b2b" stroke-width="1.25"/>
<path d="M322.5 683.5v3.2M332.75 683.5v1.8M343 683.5v3.2M353.25 683.5v1.8M363.5 683.5v3.2M373.75 683.5v1.8M384 683.5v3.2M394.25 683.5v1.8M404.5 683.5v3.2M414.75 683.5v1.8M425 683.5v3.2M435.25 683.5v1.8M445.5 683.5v3.2M455.75 683.5v1.8M466 683.5v3.2M476.25 683.5v1.8M486.5 683.5v3.2M496.75 683.5v1.8M507 683.5v3.2M322.5 795.5v3.2M332.75 795.5v1.8M343 795.5v3.2M353.25 795.5v1.8M363.5 795.5v3.2M373.75 795.5v1.8M384 795.5v3.2M394.25 795.5v1.8M404.5 795.5v3.2M414.75 795.5v1.8M425 795.5v3.2M435.25 795.5v1.8M445.5 795.5v3.2M455.75 795.5v1.8M466 795.5v3.2M476.25 795.5v1.8M486.5 795.5v3.2M496.75 795.5v1.8M507 795.5v3.2M322.5 659.4h-3.2M322.5 669.24h-3.2M322.5 679.08h-3.2M322.5 706h-3.2M322.5 731h-3.2M322.5 757.75h-3.2M322.5 782.25h-3.2M322.5 718.5h-1.8M322.5 770h-1.8" stroke="#2b2b2b" stroke-width="1" fill="none"/>
<text x="317.8" y="664" font-size="13.3" text-anchor="end" fill="#111" >0.0</text>
<text x="317.8" y="673.84" font-size="13.3" text-anchor="end" fill="#111" >-0.2</text>
<text x="317.8" y="683.68" font-size="13.3" text-anchor="end" fill="#111" >-0.4</text>
<text x="317.8" y="710.6" font-size="13.3" text-anchor="end" fill="#111" >1</text>
<text x="317.8" y="735.6" font-size="13.3" text-anchor="end" fill="#111" >0</text>
<text x="317.8" y="762.35" font-size="13.3" text-anchor="end" fill="#111" >-7</text>
<text x="317.8" y="786.85" font-size="13.3" text-anchor="end" fill="#111" >-8</text>
<text x="322.5" y="810.6" font-size="13.3" text-anchor="middle" fill="#111" >0</text>
<text x="343" y="810.6" font-size="13.3" text-anchor="middle" fill="#111" >1</text>
<text x="363.5" y="810.6" font-size="13.3" text-anchor="middle" fill="#111" >2</text>
<text x="384" y="810.6" font-size="13.3" text-anchor="middle" fill="#111" >3</text>
<text x="404.5" y="810.6" font-size="13.3" text-anchor="middle" fill="#111" >4</text>
<text x="425" y="810.6" font-size="13.3" text-anchor="middle" fill="#111" >5</text>
<text x="445.5" y="810.6" font-size="13.3" text-anchor="middle" fill="#111" >6</text>
<text x="466" y="810.6" font-size="13.3" text-anchor="middle" fill="#111" >7</text>
<text x="486.5" y="810.6" font-size="13.3" text-anchor="middle" fill="#111" >8</text>
<text x="507" y="810.6" font-size="13.3" text-anchor="middle" fill="#111" >9</text>
<text x="412.75" y="829.8" font-size="13.6" text-anchor="middle" fill="#111" >Time (s)</text>
<text x="0" y="0" font-size="13.6" text-anchor="middle" fill="#111" transform="translate(284.5 672.3) rotate(-90)">Voltage (V)</text>
<text x="0" y="0" font-size="13.6" text-anchor="middle" fill="#111" transform="translate(284.5 750.5) rotate(-90)">Current (µA)</text>
<polyline points="322.5,659.4 342.8,659.4" fill="none" stroke="#2b2b2b" stroke-width="1.7" stroke-linejoin="miter"/>
<polyline points="345.3,659.4 507,659.4" fill="none" stroke="#2b2b2b" stroke-width="1.7"/>
<polyline points="342.8,659.4 342.8,676.62 345.3,676.62 345.3,659.4" fill="none" stroke="#2b2b2b" stroke-width="1"/>
<text x="350.5" y="676.5" font-size="13.3" text-anchor="start" fill="#111" >-0.35 V</text>
<line x1="343" y1="700.5" x2="507" y2="700.5" stroke="#8c8a78" stroke-width="1" stroke-dasharray="4.2 3"/>
<polyline points="322.5,699.75 322.5,696.92 322.66,699.75 322.91,699.22 323.33,699.8 323.74,699.75 323.74,697.19 323.91,699.75 324.16,699.35 324.57,699.45 324.99,699.69 325.4,700.17 325.82,699.75 325.82,696.59 325.98,699.75 326.23,700.16 326.64,699.47 327.06,700.2 327.47,699.97 327.89,699.86 328.3,700.36 328.72,699.48 329.13,700.11 329.55,699.75 329.55,696.87 329.71,699.75 329.96,699.36 330.37,699.85 330.79,700.16 331.2,700.15 331.62,699.63 332.03,699.58 332.45,699.83 332.86,700.02 333.28,699.75 333.28,696.68 333.44,699.75 333.69,699.47 334.1,699.31 334.52,699.43 334.93,699.52 335.35,700.18 335.76,699.78 336.18,700.37 336.59,699.36 337.01,699.75 337.01,696.02 337.17,699.75 337.42,699.43 337.83,699.52 338.25,699.75 338.25,696.87 338.41,699.75 338.66,700.16 339.08,699.53 339.49,699.67 339.91,699.26 340.32,699.65 340.74,699.22 341.15,699.39 341.56,699.37 342.18,699.75 343,700.5 343.2,702.25 343.92,793.27 344.54,782.25 345.46,721 345.56,707.75 346.07,707.73 346.69,707.61 347.31,707.51 347.92,707.04 348.54,707.33 349.15,707.17 349.76,707.13 350.38,707.54 351,707.67 351.61,707.58 352.23,707.64 352.84,707.62 353.45,707.49 354.07,707.63 354.69,707.5 355.3,707.61 355.91,707.66 356.53,707.51 357.14,707.6 357.76,707.51 358.38,707.2 358.99,707.28 359.61,707.36 360.22,707.25 360.83,707.38 361.45,707.21 362.06,707.51 362.68,707.38 363.3,707.49 363.91,707.62 364.52,707.25 365.14,707.46 365.75,707.14 366.37,707.11 366.99,706.95 367.6,707.27 368.22,707.1 368.83,706.94 369.44,707.11 370.06,707.23 370.68,706.85 371.29,706.99 371.9,707.19 372.52,707.38 373.13,707.31 373.75,707.28 374.37,707.29 374.98,707.02 375.6,707.2 376.21,707.18 376.82,706.98 377.44,707.29 378.06,707.14 378.67,706.89 379.28,707.29 379.9,707.52 380.51,707.67 381.13,707.92 381.75,707.68 382.36,707.93 382.98,707.68 383.59,707.33 384.2,707.64 384.82,707.62 385.44,707.9 386.05,707.6 386.67,707.67 387.28,707.63 387.89,707.54 388.51,707.4 389.12,707.45 389.74,707.43 390.36,707.51 390.97,707.45 391.58,707.63 392.2,707.54 392.81,707.84 393.43,707.78 394.05,707.31 394.66,707.31 395.27,707.55 395.89,707.45 396.5,707.59 397.12,707.82 397.74,707.81 398.35,707.54 398.96,707.41 399.58,707.41 400.19,707.56 400.81,707.69 401.43,707.34 402.04,707.3 402.65,707.48 403.27,707.82 403.88,707.92 404.5,707.3 405.12,707.51 405.73,707.47 406.35,707.39 406.96,707.4 407.57,707.43 408.19,707.64 408.81,707.73 409.42,707.31 410.03,707.45 410.65,707.25 411.26,707.58 411.88,707.55 412.5,707.43 413.11,707.21 413.72,707.44 414.34,707.29 414.95,707.22 415.57,707.38 416.19,707.27 416.8,707.44 417.42,707.54 418.03,707.47 418.64,707.91 419.26,707.74 419.88,707.79 420.49,707.9 421.11,707.79 421.72,707.5 422.33,707.51 422.95,707.21 423.56,707.44 424.18,707.63 424.8,707.24 425.41,707.18 426.02,707.04 426.64,707.26 427.25,707.12 427.87,707.11 428.49,707.04 429.1,707.1 429.71,706.93 430.33,707.15 430.94,707.35 431.56,707.59 432.18,707.28 432.79,707.41 433.4,707.55 434.02,707.63 434.63,707.59 435.25,707.72 436.27,706.82 436.91,706.9 437.54,706.93 438.18,707.04 438.81,706.87 439.45,706.86 440.08,706.71 440.72,706.57 441.35,706.44 441.99,706.9 442.62,706.84 443.25,706.85 443.89,706.49 444.52,706.76 445.16,706.74 445.79,706.63 446.43,706.54 447.06,706.17 447.7,706.23 448.33,705.94 448.97,706.27 449.6,706.57 450.01,706 450.22,699.75 450.83,699.75 450.83,697.32 450.99,699.75 451.24,699.62 451.65,700.35 452.06,699.75 452.06,696.92 452.22,699.75 452.47,700.34 452.88,700.14 453.29,699.87 453.7,699.68 454.11,699.75 454.11,696.47 454.27,699.75 454.52,699.75 454.52,696.05 454.68,699.75 454.93,699.75 454.93,697.47 455.09,699.75 455.34,699.43 455.75,699.73 456.16,699.75 456.16,696.34 456.32,699.75 456.57,699.88 456.98,699.75 456.98,696.56 457.14,699.75 457.39,699.83 457.8,700.07 458.21,699.75 458.21,697.48 458.37,699.75 458.62,699.86 459.03,699.7 459.44,699.86 459.85,699.45 460.26,699.75 460.26,696.95 460.42,699.75 460.67,700.04 461.08,699.9 461.49,699.67 461.9,700.02 462.31,700.01 462.72,699.6 463.13,699.67 463.54,699.75 463.54,696.04 463.7,699.75 463.95,699.91 464.36,700.29 464.77,699.19 465.18,699.83 465.59,700.32 466,699.48 466.41,700.26 466.82,700.13 467.23,699.52 467.64,699.75 468.05,699.75 468.05,696.25 468.21,699.75 468.46,700.32 468.87,699.49 469.28,700.04 469.69,699.59 470.1,700.18 470.51,699.42 470.92,699.56 471.33,699.75 471.74,700.45 472.15,699.9 472.56,700.05 472.97,699.75 473.38,699.75 473.38,696.29 473.54,699.75 473.79,699.72 474.2,699.97 474.61,699.48 475.02,699.99 475.43,699.68 475.84,699.57 476.25,700 476.66,699.46 477.07,699.7 477.48,699.68 477.89,699.42 478.3,699.49 478.71,699.98 479.12,699.75 479.12,697.45 479.28,699.75 479.53,699.15 479.94,699.79 480.35,699.79 480.76,699.23 481.17,699.69 481.58,700.3 481.99,699.55 482.4,699.75 482.4,697.42 482.56,699.75 482.81,700.32 483.22,699.96 483.63,699.66 484.04,699.81 484.45,699.2 484.86,699.23 485.27,700.23 485.68,700.33 486.09,699.92 486.5,699.69 486.91,699.74 487.32,699.67 487.73,699.22 488.14,699.75 488.14,696.32 488.3,699.75 488.55,699.86 488.96,699.75 488.96,697.28 489.12,699.75 489.37,699.73 489.78,700.46 490.19,699.75 490.19,697.01 490.35,699.75 490.6,700.02 491.01,699.51 491.42,699.51 491.83,699.75 491.83,696.42 491.99,699.75 492.24,699.4 492.65,699.08 493.06,699.6 493.47,699.33 493.88,700.22 494.29,699.18 494.7,699.36 495.11,700.01 495.52,699.67 495.93,699.87 496.34,699.75 496.34,696.43 496.5,699.75 496.75,699.91 497.16,699.81 497.57,699.9 497.98,699.66 498.39,699.84 498.8,699.59 499.21,699.63 499.62,699.75 499.62,696.16 499.78,699.75 500.03,699.85 500.44,699.93 500.85,699.76 501.26,699.55 501.67,699.75 501.67,697.07 501.83,699.75 502.08,699.76 502.49,699.3 502.9,699.58 503.31,699.21 503.72,699.7 504.13,699.18 504.54,699.74 504.95,700.36 505.36,699.49 505.77,699.63 506.18,699.61 506.59,699.75 506.59,696.59 506.75,699.75 507,699.63" fill="none" stroke="#274d4a" stroke-width="1.15" stroke-linejoin="round"/>
<rect x="341.77" y="743.95" width="5.33" height="1.6" fill="#fff"/>
<rect x="320.5" y="743.75" width="4" height="2" fill="#fff"/>
<path d="M319.7 744.85l5.6 -2M319.7 746.95l5.6 -2" stroke="#2b2b2b" stroke-width="1" fill="none"/>
<rect x="505" y="743.75" width="4" height="2" fill="#fff"/>
<path d="M504.2 744.85l5.6 -2M504.2 746.95l5.6 -2" stroke="#2b2b2b" stroke-width="1" fill="none"/>
<rect x="574.5" y="653.5" width="183.75" height="28.75" fill="#fff" stroke="#2b2b2b" stroke-width="1.25"/>
<rect x="574.5" y="691" width="183.75" height="103" fill="#fff" stroke="#2b2b2b" stroke-width="1.25"/>
<path d="M574.5 682.25v3.2M587.62 682.25v1.8M600.75 682.25v3.2M613.88 682.25v1.8M627 682.25v3.2M640.12 682.25v1.8M653.25 682.25v3.2M666.38 682.25v1.8M679.5 682.25v3.2M692.62 682.25v1.8M705.75 682.25v3.2M718.88 682.25v1.8M732 682.25v3.2M745.12 682.25v1.8M758.25 682.25v3.2M574.5 794v3.2M587.62 794v1.8M600.75 794v3.2M613.88 794v1.8M627 794v3.2M640.12 794v1.8M653.25 794v3.2M666.38 794v1.8M679.5 794v3.2M692.62 794v1.8M705.75 794v3.2M718.88 794v1.8M732 794v3.2M745.12 794v1.8M758.25 794v3.2M574.5 658h-3.2M574.5 667.88h-3.2M574.5 677.76h-3.2M574.5 704h-3.2M574.5 729.25h-3.2M574.5 755.5h-3.2M574.5 781h-3.2M574.5 716.62h-1.8M574.5 768.25h-1.8" stroke="#2b2b2b" stroke-width="1" fill="none"/>
<text x="571" y="662.6" font-size="13.3" text-anchor="end" fill="#111" >0.0</text>
<text x="571" y="672.48" font-size="13.3" text-anchor="end" fill="#111" >-0.2</text>
<text x="571" y="682.36" font-size="13.3" text-anchor="end" fill="#111" >-0.4</text>
<text x="571" y="708.6" font-size="13.3" text-anchor="end" fill="#111" >1</text>
<text x="571" y="733.85" font-size="13.3" text-anchor="end" fill="#111" >0</text>
<text x="571" y="760.1" font-size="13.3" text-anchor="end" fill="#111" >-7</text>
<text x="571" y="785.6" font-size="13.3" text-anchor="end" fill="#111" >-8</text>
<text x="574.5" y="810.2" font-size="13.3" text-anchor="middle" fill="#111" >0</text>
<text x="600.75" y="810.2" font-size="13.3" text-anchor="middle" fill="#111" >1</text>
<text x="627" y="810.2" font-size="13.3" text-anchor="middle" fill="#111" >2</text>
<text x="653.25" y="810.2" font-size="13.3" text-anchor="middle" fill="#111" >3</text>
<text x="679.5" y="810.2" font-size="13.3" text-anchor="middle" fill="#111" >4</text>
<text x="705.75" y="810.2" font-size="13.3" text-anchor="middle" fill="#111" >5</text>
<text x="732" y="810.2" font-size="13.3" text-anchor="middle" fill="#111" >6</text>
<text x="758.25" y="810.2" font-size="13.3" text-anchor="middle" fill="#111" >7</text>
<text x="664.38" y="829" font-size="13.6" text-anchor="middle" fill="#111" >Time (s)</text>
<text x="0" y="0" font-size="13.6" text-anchor="middle" fill="#111" transform="translate(535.9 670) rotate(-90)">Voltage (V)</text>
<text x="0" y="0" font-size="13.6" text-anchor="middle" fill="#111" transform="translate(535.9 748.5) rotate(-90)">Current (µA)</text>
<polyline points="574.5,658 600.55,658" fill="none" stroke="#2b2b2b" stroke-width="1.7" stroke-linejoin="miter"/>
<polyline points="603.05,658 758.25,658" fill="none" stroke="#2b2b2b" stroke-width="1.7"/>
<polyline points="600.55,658 600.55,677.76 603.05,677.76 603.05,658" fill="none" stroke="#2b2b2b" stroke-width="1"/>
<text x="608.5" y="674.5" font-size="13.3" text-anchor="start" fill="#111" >-0.4 V</text>
<line x1="600.75" y1="698.45" x2="758.25" y2="698.45" stroke="#c87a3c" stroke-width="1" stroke-dasharray="4.2 3"/>
<polyline points="574.5,697.72 575.03,697.48 575.56,697.54 576.09,697.69 576.09,694.76 576.3,697.69 576.62,697.69 576.62,694.65 576.83,697.69 577.15,697.42 577.68,697.36 578.21,697.69 578.21,694.52 578.42,697.69 578.75,698.3 579.28,697.6 579.81,697.69 579.81,695.23 580.02,697.69 580.34,697.94 580.87,697.32 581.4,697.68 581.93,697.34 582.46,697.36 582.99,697.89 583.52,697.26 584.05,697.12 584.58,697.46 585.11,698.06 585.64,697.69 585.64,694.45 585.85,697.69 586.18,697.69 586.18,695.39 586.39,697.69 586.71,697.5 587.24,697.55 587.77,697.66 588.3,697.28 588.83,697.64 589.36,697.73 589.89,697.82 590.42,697.54 590.95,697.64 591.48,697.72 592.01,697.69 592.01,694.94 592.22,697.69 592.54,697.58 593.07,697.82 593.61,697.4 594.14,697.2 594.67,698.2 595.2,697.41 595.73,697.2 596.26,697.88 596.79,697.85 597.32,697.41 597.85,697.21 598.38,697.69 598.38,695.04 598.59,697.69 598.91,697.01 599.7,697.69 600.36,698.45 600.54,716.62 600.83,721.67 601.01,794 603.38,794 603.56,705.77 604.69,705.65 605.48,705.9 606.26,705.63 607.05,705.78 607.84,705.49 608.62,705.28 609.41,705.25 610.2,705.37 610.99,705.42 611.77,705.06 612.56,704.74 613.35,704.88 614.14,705.6 614.92,705.85 615.71,706.06 616.5,705.54 617.29,705.85 618.08,705.43 618.86,705.39 619.65,705.46 620.44,705.13 621.23,705.29 622.01,705.08 622.8,704.93 623.59,705.25 624.38,705.33 625.16,705.11 625.95,705.74 626.74,705.45 627.52,705.51 628.31,705.33 629.1,705.45 629.89,705.56 630.67,706.02 631.46,706.19 632.25,706.16 633.04,705.98 633.83,706.12 634.61,705.88 635.4,705.7 636.19,705.55 636.98,705.41 637.76,705.3 638.55,705.52 639.34,705.42 640.12,705.44 640.91,705.37 641.7,705.83 642.49,705.86 643.27,705.98 644.06,706.03 644.85,705.97 645.64,705.95 646.42,705.88 647.21,706.02 648,706.17 648.79,706.06 649.58,706.09 650.36,705.88 651.15,705.76 651.94,705.53 652.73,705.75 653.51,705.69 654.3,705.67 655.09,705.64 655.88,705.88 656.66,705.41 657.45,705.42 658.24,705.16 659.02,705.45 659.81,705.46 660.6,705.29 661.39,705.37 662.17,705.4 662.96,705.56 663.75,705.13 664.54,705.06 665.33,705.27 666.11,705.31 666.9,705.56 667.69,705.39 668.48,705.44 669.26,705.57 670.05,705.46 670.84,704.91 671.62,705.1 672.41,705.36 673.2,705.51 673.99,705.33 674.77,705.53 675.56,705.81 676.35,705.47 677.14,705.83 677.92,706.1 678.71,705.97 679.5,705.85 680.29,706.13 681.08,706.34 681.86,706.03 682.65,706.01 683.44,706.35 684.23,705.78 685.01,705.37 685.8,705.03 686.59,705.16 687.38,705.5 688.16,705.64 688.95,705.31 689.74,705.44 690.52,705.81 691.31,705.53 692.1,705.31 692.89,705.59 693.67,705.75 694.46,705.51 695.25,705.86 696.04,705.66 696.83,705.68 697.61,705.41 698.4,705.65 699.19,705.69 699.98,705.81 700.76,705.36 701.55,705.25 702.34,705.55 703.12,705.67 703.91,705.58 704.7,705.6 705.49,705.45 706.27,705.74 707.06,705.81 707.85,705.29 708.64,705.09 709.42,705.41 710.21,705.05 711,704.89 711.79,705.56 712.58,705.48 713.36,705.26 714.15,705.31 714.94,705.39 715.72,705.15 716.51,705.17 717.3,705.79 718.09,705.7 718.88,705.6 719.66,705.85 720.45,705.48 721.24,705.49 722.02,705.84 722.81,705.78 723.6,705.87 724.39,705.62 725.17,705.77 725.96,705.81 726.75,705.4 727.54,705.54 728.33,705.64 729.11,705.62 729.9,705.75 730.69,705.52 731.47,705.79 732.26,705.82 733.05,705.3 733.84,705.77 734.62,705.94 735.41,705.79 736.2,706.24 736.99,706.56 737.78,706.4 738.56,705.9 739.35,705.73 740.14,705.79 740.92,705.97 741.71,705.26 742.5,705.21 743.29,705.54 744.08,705.17 744.86,704.96 745.65,705.28 746.44,705.74 747.23,705.2 748.01,705.32 748.8,705.5 749.59,705.44 750.38,705.53 751.16,705.26 751.95,705.48 752.74,705.5 753.52,705.37 754.31,705.12 755.1,705.41 755.89,705.57 756.67,705.23 757.46,705.33 758.25,705.16" fill="none" stroke="#274d4a" stroke-width="1.3" stroke-linejoin="round"/>
<rect x="599.17" y="741.45" width="6.83" height="1.6" fill="#fff"/>
<rect x="572.5" y="741.25" width="4" height="2" fill="#fff"/>
<path d="M571.7 742.35l5.6 -2M571.7 744.45l5.6 -2" stroke="#2b2b2b" stroke-width="1" fill="none"/>
<rect x="756.25" y="741.25" width="4" height="2" fill="#fff"/>
<path d="M755.45 742.35l5.6 -2M755.45 744.45l5.6 -2" stroke="#2b2b2b" stroke-width="1" fill="none"/>
</g>
<g class="serif">
<text x="12" y="27.5" font-size="21" fill="#111">a</text>
<text x="263.5" y="27.5" font-size="21" fill="#111">b</text>
<text x="521" y="27.2" font-size="21" fill="#111">c</text>
<text x="12.8" y="233.8" font-size="21" fill="#111">f</text>
<text x="261" y="233.8" font-size="21" fill="#111">d</text>
<text x="518.6" y="233.8" font-size="21" fill="#111">e</text>
<text x="12.4" y="436.2" font-size="21" fill="#111">g</text>
<text x="264.5" y="435.5" font-size="21" fill="#111">h</text>
<text x="522.6" y="435.5" font-size="21" fill="#111">i</text>
<text x="12.4" y="637.7" font-size="21" fill="#111">j</text>
<text x="259.8" y="637.7" font-size="21" fill="#111">k</text>
<text x="517.8" y="637.4" font-size="21" fill="#111">l</text>
</g>
</svg>
</body></html>
